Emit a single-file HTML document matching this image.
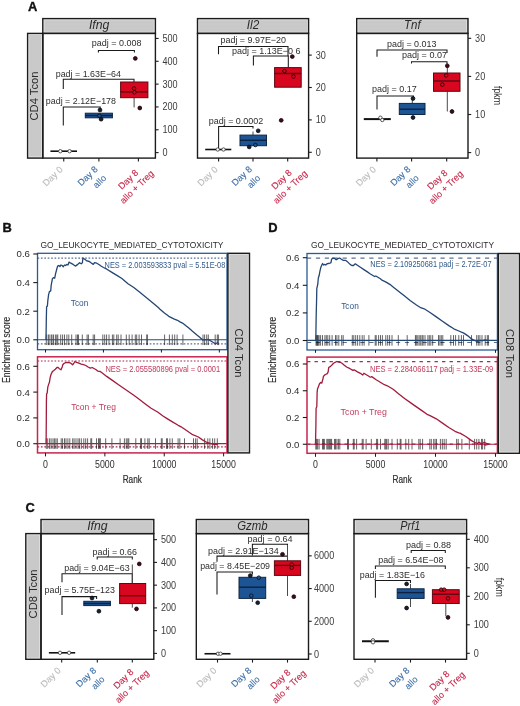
<!DOCTYPE html>
<html><head><meta charset="utf-8"><style>
html,body{margin:0;padding:0;background:#fff;}
svg{display:block;will-change:transform;}
text{font-family:"Liberation Sans", sans-serif;}
</style></head><body>
<svg width="520" height="706" viewBox="0 0 520 706">
<rect x="0" y="0" width="520" height="706" fill="#fff"/>
<text x="28" y="11" font-size="12.9" text-anchor="start" fill="#111" font-weight="bold" stroke="#111" stroke-width="0.35">A</text>
<text x="2.4" y="232.4" font-size="12.9" text-anchor="start" fill="#111" font-weight="bold" stroke="#111" stroke-width="0.35">B</text>
<text x="268.3" y="232.4" font-size="12.9" text-anchor="start" fill="#111" font-weight="bold" stroke="#111" stroke-width="0.35">D</text>
<text x="25.6" y="512.4" font-size="12.9" text-anchor="start" fill="#111" font-weight="bold" stroke="#111" stroke-width="0.35">C</text>
<rect x="27.6" y="33.4" width="15.2" height="124.7" fill="#c9c9c9" stroke="#1c1c1c" stroke-width="1.4"/>
<rect x="28.9" y="34.7" width="12.6" height="122.1" fill="none" stroke="#fff" stroke-width="0.6" stroke-opacity="0.55"/>
<text transform="translate(37.7,96) rotate(-90)" x="0" y="0" font-size="11" text-anchor="middle" fill="#2a2a2a" textLength="49" lengthAdjust="spacingAndGlyphs">CD4 Tcon</text>
<rect x="42.8" y="18.6" width="112.6" height="14.8" fill="#c9c9c9" stroke="#1c1c1c" stroke-width="1.4"/>
<rect x="44.1" y="19.9" width="110" height="12.2" fill="none" stroke="#fff" stroke-width="0.6" stroke-opacity="0.55"/>
<text x="99.1" y="29.1" font-size="12" text-anchor="middle" fill="#2a2a2a" font-style="italic" textLength="20.4" lengthAdjust="spacingAndGlyphs">Ifng</text>
<line x1="155.4" y1="152.6" x2="158.6" y2="152.6" stroke="#1c1c1c" stroke-width="1.1" stroke-linecap="butt"/>
<text x="162.5" y="156.1" font-size="10" text-anchor="start" fill="#3c3c3c" textLength="5.05" lengthAdjust="spacingAndGlyphs">0</text>
<line x1="155.4" y1="129.77" x2="158.6" y2="129.77" stroke="#1c1c1c" stroke-width="1.1" stroke-linecap="butt"/>
<text x="162.5" y="133.27" font-size="10" text-anchor="start" fill="#3c3c3c" textLength="15.15" lengthAdjust="spacingAndGlyphs">100</text>
<line x1="155.4" y1="106.94" x2="158.6" y2="106.94" stroke="#1c1c1c" stroke-width="1.1" stroke-linecap="butt"/>
<text x="162.5" y="110.44" font-size="10" text-anchor="start" fill="#3c3c3c" textLength="15.15" lengthAdjust="spacingAndGlyphs">200</text>
<line x1="155.4" y1="84.11" x2="158.6" y2="84.11" stroke="#1c1c1c" stroke-width="1.1" stroke-linecap="butt"/>
<text x="162.5" y="87.61" font-size="10" text-anchor="start" fill="#3c3c3c" textLength="15.15" lengthAdjust="spacingAndGlyphs">300</text>
<line x1="155.4" y1="61.28" x2="158.6" y2="61.28" stroke="#1c1c1c" stroke-width="1.1" stroke-linecap="butt"/>
<text x="162.5" y="64.78" font-size="10" text-anchor="start" fill="#3c3c3c" textLength="15.15" lengthAdjust="spacingAndGlyphs">400</text>
<line x1="155.4" y1="38.45" x2="158.6" y2="38.45" stroke="#1c1c1c" stroke-width="1.1" stroke-linecap="butt"/>
<text x="162.5" y="41.95" font-size="10" text-anchor="start" fill="#3c3c3c" textLength="15.15" lengthAdjust="spacingAndGlyphs">500</text>
<line x1="63.75" y1="158.1" x2="63.75" y2="161.4" stroke="#1c1c1c" stroke-width="1.1" stroke-linecap="butt"/>
<line x1="98.9" y1="158.1" x2="98.9" y2="161.4" stroke="#1c1c1c" stroke-width="1.1" stroke-linecap="butt"/>
<line x1="138.4" y1="158.1" x2="138.4" y2="161.4" stroke="#1c1c1c" stroke-width="1.1" stroke-linecap="butt"/>
<text x="116.55" y="45.6" font-size="9" text-anchor="middle" fill="#2e2e2e" textLength="49.7" lengthAdjust="spacingAndGlyphs">padj = 0.008</text>
<polyline points="98.4,52.6 98.4,50.4 134.4,50.4 134.4,52.6" fill="none" stroke="#1a1a1a" stroke-width="1.05" stroke-linejoin="miter"/>
<circle cx="135.3" cy="58.4" r="1.9" fill="#3e0c14" stroke="#1c0508" stroke-width="0.8"/>
<text x="88.35" y="76.7" font-size="9" text-anchor="middle" fill="#2e2e2e" textLength="65.3" lengthAdjust="spacingAndGlyphs">padj = 1.63E−64</text>
<polyline points="63.3,88.9 63.3,79.2 134,79.2 134,82" fill="none" stroke="#1a1a1a" stroke-width="1.05" stroke-linejoin="miter"/>
<line x1="134.1" y1="97.7" x2="134.1" y2="107.4" stroke="#4a4a4a" stroke-width="1" stroke-linecap="butt"/>
<rect x="120.6" y="82" width="27.3" height="15.7" fill="#d9061f" stroke="#5e0812" stroke-width="1"/>
<line x1="120.6" y1="91.9" x2="147.9" y2="91.9" stroke="#5a0a14" stroke-width="1.4" stroke-linecap="butt"/>
<circle cx="134" cy="88.5" r="1.8" fill="#d9061f" stroke="#2a0508" stroke-width="0.9"/>
<circle cx="134.5" cy="92.3" r="1.8" fill="#d9061f" stroke="#2a0508" stroke-width="0.9"/>
<circle cx="139.8" cy="108" r="1.9" fill="#3e0c14" stroke="#1c0508" stroke-width="0.8"/>
<text x="80.9" y="103.7" font-size="9" text-anchor="middle" fill="#2e2e2e" textLength="70.2" lengthAdjust="spacingAndGlyphs">padj = 2.12E−178</text>
<polyline points="63.3,125.6 63.3,106.9 100.2,106.9 100.2,109.4" fill="none" stroke="#1a1a1a" stroke-width="1.05" stroke-linejoin="miter"/>
<rect x="85.3" y="113.2" width="27.1" height="4.6" fill="#1d5494" stroke="#0f2644" stroke-width="1"/>
<line x1="85.3" y1="115.5" x2="112.4" y2="115.5" stroke="#0c2240" stroke-width="1.4" stroke-linecap="butt"/>
<circle cx="100" cy="110" r="1.9" fill="#17202c" stroke="#0a0e16" stroke-width="0.8"/>
<circle cx="99.4" cy="115.8" r="1.8" fill="#1d5494" stroke="#0a1424" stroke-width="0.9"/>
<circle cx="101.1" cy="119.2" r="1.9" fill="#17202c" stroke="#0a0e16" stroke-width="0.8"/>
<line x1="50.4" y1="151.2" x2="77" y2="151.2" stroke="#111" stroke-width="1.6" stroke-linecap="butt"/>
<circle cx="60.3" cy="151.2" r="1.7" fill="#fff" stroke="#333" stroke-width="0.8"/>
<circle cx="69.6" cy="151.2" r="1.7" fill="#fff" stroke="#333" stroke-width="0.8"/>
<rect x="42.8" y="33.4" width="112.6" height="124.7" fill="none" stroke="#1c1c1c" stroke-width="1.4"/>
<text transform="translate(52.85,176.3) rotate(-44)" x="0" y="2.94" font-size="9.2" text-anchor="middle" fill="#bcbcbc" stroke="#bcbcbc" stroke-width="0.12">Day 0</text>
<text transform="translate(87.8,176.1) rotate(-44)" x="0" y="2.94" font-size="9.2" text-anchor="middle" fill="#3f6fa8" stroke="#3f6fa8" stroke-width="0.12">Day 8</text>
<text transform="translate(99.4,181.4) rotate(-44)" x="0" y="3.31" font-size="9.2" text-anchor="middle" fill="#3f6fa8" stroke="#3f6fa8" stroke-width="0.12">allo</text>
<text transform="translate(128.3,179.6) rotate(-44)" x="0" y="2.94" font-size="9.2" text-anchor="middle" fill="#c8284a" stroke="#c8284a" stroke-width="0.12">Day 8</text>
<text transform="translate(136.9,187.1) rotate(-44)" x="0" y="2.94" font-size="9.2" text-anchor="middle" fill="#c8284a" stroke="#c8284a" stroke-width="0.12">allo + Treg</text>
<rect x="197.5" y="18.6" width="111.1" height="14.8" fill="#c9c9c9" stroke="#1c1c1c" stroke-width="1.4"/>
<rect x="198.8" y="19.9" width="108.5" height="12.2" fill="none" stroke="#fff" stroke-width="0.6" stroke-opacity="0.55"/>
<text x="253.05" y="29.1" font-size="12" text-anchor="middle" fill="#2a2a2a" font-style="italic" textLength="12.4" lengthAdjust="spacingAndGlyphs">Il2</text>
<line x1="308.6" y1="152.3" x2="311.8" y2="152.3" stroke="#1c1c1c" stroke-width="1.1" stroke-linecap="butt"/>
<text x="315.7" y="155.8" font-size="10" text-anchor="start" fill="#3c3c3c" textLength="5.05" lengthAdjust="spacingAndGlyphs">0</text>
<line x1="308.6" y1="119.9" x2="311.8" y2="119.9" stroke="#1c1c1c" stroke-width="1.1" stroke-linecap="butt"/>
<text x="315.7" y="123.4" font-size="10" text-anchor="start" fill="#3c3c3c" textLength="10.1" lengthAdjust="spacingAndGlyphs">10</text>
<line x1="308.6" y1="87.5" x2="311.8" y2="87.5" stroke="#1c1c1c" stroke-width="1.1" stroke-linecap="butt"/>
<text x="315.7" y="91" font-size="10" text-anchor="start" fill="#3c3c3c" textLength="10.1" lengthAdjust="spacingAndGlyphs">20</text>
<line x1="308.6" y1="55.1" x2="311.8" y2="55.1" stroke="#1c1c1c" stroke-width="1.1" stroke-linecap="butt"/>
<text x="315.7" y="58.6" font-size="10" text-anchor="start" fill="#3c3c3c" textLength="10.1" lengthAdjust="spacingAndGlyphs">30</text>
<line x1="218.6" y1="158.1" x2="218.6" y2="161.4" stroke="#1c1c1c" stroke-width="1.1" stroke-linecap="butt"/>
<line x1="253" y1="158.1" x2="253" y2="161.4" stroke="#1c1c1c" stroke-width="1.1" stroke-linecap="butt"/>
<line x1="287.7" y1="158.1" x2="287.7" y2="161.4" stroke="#1c1c1c" stroke-width="1.1" stroke-linecap="butt"/>
<text x="253.25" y="42.5" font-size="9" text-anchor="middle" fill="#2e2e2e" textLength="65.5" lengthAdjust="spacingAndGlyphs">padj = 9.97E−20</text>
<polyline points="218.5,54.2 218.5,46.4 288,46.4 288,56" fill="none" stroke="#1a1a1a" stroke-width="1.05" stroke-linejoin="miter"/>
<text x="266.3" y="53.7" font-size="9" text-anchor="middle" fill="#2e2e2e" textLength="68.6" lengthAdjust="spacingAndGlyphs">padj = 1.13E−0 6</text>
<polyline points="253.4,65.4 253.4,56 288.3,56 288.3,67.5" fill="none" stroke="#1a1a1a" stroke-width="1.05" stroke-linejoin="miter"/>
<circle cx="292.3" cy="56.6" r="1.9" fill="#3e0c14" stroke="#1c0508" stroke-width="0.8"/>
<rect x="274.6" y="67.6" width="26.6" height="19.6" fill="#d9061f" stroke="#5e0812" stroke-width="1"/>
<line x1="274.6" y1="73.5" x2="301.2" y2="73.5" stroke="#5a0a14" stroke-width="1.4" stroke-linecap="butt"/>
<circle cx="284.5" cy="71" r="1.8" fill="#d9061f" stroke="#2a0508" stroke-width="0.9"/>
<circle cx="293.5" cy="76.5" r="1.8" fill="#d9061f" stroke="#2a0508" stroke-width="0.9"/>
<circle cx="281.2" cy="120.3" r="1.9" fill="#3e0c14" stroke="#1c0508" stroke-width="0.8"/>
<text x="236" y="123.5" font-size="9" text-anchor="middle" fill="#2e2e2e" textLength="54.6" lengthAdjust="spacingAndGlyphs">padj = 0.0002</text>
<polyline points="218.6,148.6 218.6,126.5 253,126.5 253,128.5" fill="none" stroke="#1a1a1a" stroke-width="1.05" stroke-linejoin="miter"/>
<line x1="253" y1="135.1" x2="253" y2="131.5" stroke="#4a4a4a" stroke-width="1" stroke-linecap="butt"/>
<rect x="240" y="135.1" width="26.5" height="10.6" fill="#1d5494" stroke="#0f2644" stroke-width="1"/>
<line x1="240" y1="140.3" x2="266.5" y2="140.3" stroke="#0c2240" stroke-width="1.4" stroke-linecap="butt"/>
<circle cx="258.2" cy="130.8" r="1.9" fill="#17202c" stroke="#0a0e16" stroke-width="0.8"/>
<circle cx="249.2" cy="146.9" r="1.9" fill="#17202c" stroke="#0a0e16" stroke-width="0.8"/>
<circle cx="255.4" cy="145" r="1.8" fill="#1d5494" stroke="#0a1424" stroke-width="0.9"/>
<line x1="205.2" y1="149.5" x2="231.3" y2="149.5" stroke="#111" stroke-width="1.6" stroke-linecap="butt"/>
<circle cx="217.7" cy="149.5" r="1.7" fill="#fff" stroke="#333" stroke-width="0.8"/>
<circle cx="223.5" cy="149.5" r="1.7" fill="#fff" stroke="#333" stroke-width="0.8"/>
<rect x="197.5" y="33.4" width="111.1" height="124.7" fill="none" stroke="#1c1c1c" stroke-width="1.4"/>
<text transform="translate(207.7,176.3) rotate(-44)" x="0" y="2.94" font-size="9.2" text-anchor="middle" fill="#bcbcbc" stroke="#bcbcbc" stroke-width="0.12">Day 0</text>
<text transform="translate(241.9,176.1) rotate(-44)" x="0" y="2.94" font-size="9.2" text-anchor="middle" fill="#3f6fa8" stroke="#3f6fa8" stroke-width="0.12">Day 8</text>
<text transform="translate(253.5,181.4) rotate(-44)" x="0" y="3.31" font-size="9.2" text-anchor="middle" fill="#3f6fa8" stroke="#3f6fa8" stroke-width="0.12">allo</text>
<text transform="translate(281.7,179.6) rotate(-44)" x="0" y="2.94" font-size="9.2" text-anchor="middle" fill="#c8284a" stroke="#c8284a" stroke-width="0.12">Day 8</text>
<text transform="translate(290.3,187.1) rotate(-44)" x="0" y="2.94" font-size="9.2" text-anchor="middle" fill="#c8284a" stroke="#c8284a" stroke-width="0.12">allo + Treg</text>
<rect x="356.7" y="18.6" width="111.3" height="14.8" fill="#c9c9c9" stroke="#1c1c1c" stroke-width="1.4"/>
<rect x="358" y="19.9" width="108.7" height="12.2" fill="none" stroke="#fff" stroke-width="0.6" stroke-opacity="0.55"/>
<text x="412.35" y="29.1" font-size="12" text-anchor="middle" fill="#2a2a2a" font-style="italic" textLength="16.6" lengthAdjust="spacingAndGlyphs">Tnf</text>
<line x1="468" y1="152.6" x2="471.2" y2="152.6" stroke="#1c1c1c" stroke-width="1.1" stroke-linecap="butt"/>
<text x="475.1" y="156.1" font-size="10" text-anchor="start" fill="#3c3c3c" textLength="5.05" lengthAdjust="spacingAndGlyphs">0</text>
<line x1="468" y1="114.5" x2="471.2" y2="114.5" stroke="#1c1c1c" stroke-width="1.1" stroke-linecap="butt"/>
<text x="475.1" y="118" font-size="10" text-anchor="start" fill="#3c3c3c" textLength="10.1" lengthAdjust="spacingAndGlyphs">10</text>
<line x1="468" y1="76.4" x2="471.2" y2="76.4" stroke="#1c1c1c" stroke-width="1.1" stroke-linecap="butt"/>
<text x="475.1" y="79.9" font-size="10" text-anchor="start" fill="#3c3c3c" textLength="10.1" lengthAdjust="spacingAndGlyphs">20</text>
<line x1="468" y1="38.3" x2="471.2" y2="38.3" stroke="#1c1c1c" stroke-width="1.1" stroke-linecap="butt"/>
<text x="475.1" y="41.8" font-size="10" text-anchor="start" fill="#3c3c3c" textLength="10.1" lengthAdjust="spacingAndGlyphs">30</text>
<text transform="translate(494.3,95.5) rotate(90)" x="0" y="0" font-size="11.3" text-anchor="middle" fill="#2e2e2e" textLength="19" lengthAdjust="spacingAndGlyphs">fpkm</text>
<line x1="376.9" y1="158.1" x2="376.9" y2="161.4" stroke="#1c1c1c" stroke-width="1.1" stroke-linecap="butt"/>
<line x1="411.6" y1="158.1" x2="411.6" y2="161.4" stroke="#1c1c1c" stroke-width="1.1" stroke-linecap="butt"/>
<line x1="446.7" y1="158.1" x2="446.7" y2="161.4" stroke="#1c1c1c" stroke-width="1.1" stroke-linecap="butt"/>
<text x="411.75" y="46.9" font-size="9" text-anchor="middle" fill="#2e2e2e" textLength="49.5" lengthAdjust="spacingAndGlyphs">padj = 0.013</text>
<polyline points="377,56.7 377,50 447,50 447,53" fill="none" stroke="#1a1a1a" stroke-width="1.05" stroke-linejoin="miter"/>
<text x="424.5" y="57.9" font-size="9" text-anchor="middle" fill="#2e2e2e" textLength="45" lengthAdjust="spacingAndGlyphs">padj = 0.07</text>
<polyline points="411.5,63.5 411.5,61.8 447,61.8 447,64" fill="none" stroke="#1a1a1a" stroke-width="1.05" stroke-linejoin="miter"/>
<line x1="447.3" y1="73" x2="447.3" y2="65.8" stroke="#4a4a4a" stroke-width="1" stroke-linecap="butt"/>
<line x1="447.3" y1="91.3" x2="447.3" y2="111.5" stroke="#4a4a4a" stroke-width="1" stroke-linecap="butt"/>
<rect x="433.5" y="73" width="26.5" height="18.3" fill="#d9061f" stroke="#5e0812" stroke-width="1"/>
<line x1="433.5" y1="81" x2="460" y2="81" stroke="#5a0a14" stroke-width="1.4" stroke-linecap="butt"/>
<circle cx="447.3" cy="65.8" r="1.9" fill="#3e0c14" stroke="#1c0508" stroke-width="0.8"/>
<circle cx="446.2" cy="75.4" r="1.8" fill="#d9061f" stroke="#2a0508" stroke-width="0.9"/>
<circle cx="442.3" cy="84.6" r="1.8" fill="#d9061f" stroke="#2a0508" stroke-width="0.9"/>
<circle cx="452" cy="111.5" r="1.9" fill="#3e0c14" stroke="#1c0508" stroke-width="0.8"/>
<text x="394.35" y="91.9" font-size="9" text-anchor="middle" fill="#2e2e2e" textLength="44.7" lengthAdjust="spacingAndGlyphs">padj = 0.17</text>
<polyline points="377,109.6 377,96 413.5,96 413.5,98" fill="none" stroke="#1a1a1a" stroke-width="1.05" stroke-linejoin="miter"/>
<line x1="412.3" y1="103.4" x2="412.3" y2="99" stroke="#4a4a4a" stroke-width="1" stroke-linecap="butt"/>
<rect x="399.3" y="103.4" width="25.7" height="11.1" fill="#1d5494" stroke="#0f2644" stroke-width="1"/>
<line x1="399.3" y1="109.2" x2="425" y2="109.2" stroke="#0c2240" stroke-width="1.4" stroke-linecap="butt"/>
<circle cx="413" cy="98.5" r="1.9" fill="#17202c" stroke="#0a0e16" stroke-width="0.8"/>
<circle cx="413" cy="117.5" r="1.9" fill="#17202c" stroke="#0a0e16" stroke-width="0.8"/>
<line x1="363.8" y1="119.1" x2="390.8" y2="119.1" stroke="#111" stroke-width="2" stroke-linecap="butt"/>
<circle cx="380.4" cy="117.7" r="1.7" fill="#fff" stroke="#333" stroke-width="0.8"/>
<circle cx="382.3" cy="120" r="1.7" fill="#fff" stroke="#333" stroke-width="0.8"/>
<rect x="356.7" y="33.4" width="111.3" height="124.7" fill="none" stroke="#1c1c1c" stroke-width="1.4"/>
<text transform="translate(366,176.3) rotate(-44)" x="0" y="2.94" font-size="9.2" text-anchor="middle" fill="#bcbcbc" stroke="#bcbcbc" stroke-width="0.12">Day 0</text>
<text transform="translate(400.5,176.1) rotate(-44)" x="0" y="2.94" font-size="9.2" text-anchor="middle" fill="#3f6fa8" stroke="#3f6fa8" stroke-width="0.12">Day 8</text>
<text transform="translate(412.1,181.4) rotate(-44)" x="0" y="3.31" font-size="9.2" text-anchor="middle" fill="#3f6fa8" stroke="#3f6fa8" stroke-width="0.12">allo</text>
<text transform="translate(437.4,179.9) rotate(-44)" x="0" y="2.94" font-size="9.2" text-anchor="middle" fill="#c8284a" stroke="#c8284a" stroke-width="0.12">Day 8</text>
<text transform="translate(446,187.4) rotate(-44)" x="0" y="2.94" font-size="9.2" text-anchor="middle" fill="#c8284a" stroke="#c8284a" stroke-width="0.12">allo + Treg</text>
<rect x="25.8" y="533.6" width="15.2" height="125.7" fill="#c9c9c9" stroke="#1c1c1c" stroke-width="1.4"/>
<rect x="27.1" y="534.9" width="12.6" height="123.1" fill="none" stroke="#fff" stroke-width="0.6" stroke-opacity="0.55"/>
<text transform="translate(37.2,593.9) rotate(-90)" x="0" y="0" font-size="11" text-anchor="middle" fill="#2a2a2a" textLength="49" lengthAdjust="spacingAndGlyphs">CD8 Tcon</text>
<rect x="41" y="519.5" width="112.8" height="14.1" fill="#c9c9c9" stroke="#1c1c1c" stroke-width="1.4"/>
<rect x="42.3" y="520.8" width="110.2" height="11.5" fill="none" stroke="#fff" stroke-width="0.6" stroke-opacity="0.55"/>
<text x="97.4" y="529.65" font-size="12" text-anchor="middle" fill="#2a2a2a" font-style="italic" textLength="20.4" lengthAdjust="spacingAndGlyphs">Ifng</text>
<line x1="153.8" y1="653.4" x2="157" y2="653.4" stroke="#1c1c1c" stroke-width="1.1" stroke-linecap="butt"/>
<text x="160.9" y="656.9" font-size="10" text-anchor="start" fill="#3c3c3c" textLength="5.05" lengthAdjust="spacingAndGlyphs">0</text>
<line x1="153.8" y1="630.65" x2="157" y2="630.65" stroke="#1c1c1c" stroke-width="1.1" stroke-linecap="butt"/>
<text x="160.9" y="634.15" font-size="10" text-anchor="start" fill="#3c3c3c" textLength="15.15" lengthAdjust="spacingAndGlyphs">100</text>
<line x1="153.8" y1="607.9" x2="157" y2="607.9" stroke="#1c1c1c" stroke-width="1.1" stroke-linecap="butt"/>
<text x="160.9" y="611.4" font-size="10" text-anchor="start" fill="#3c3c3c" textLength="15.15" lengthAdjust="spacingAndGlyphs">200</text>
<line x1="153.8" y1="585.15" x2="157" y2="585.15" stroke="#1c1c1c" stroke-width="1.1" stroke-linecap="butt"/>
<text x="160.9" y="588.65" font-size="10" text-anchor="start" fill="#3c3c3c" textLength="15.15" lengthAdjust="spacingAndGlyphs">300</text>
<line x1="153.8" y1="562.4" x2="157" y2="562.4" stroke="#1c1c1c" stroke-width="1.1" stroke-linecap="butt"/>
<text x="160.9" y="565.9" font-size="10" text-anchor="start" fill="#3c3c3c" textLength="15.15" lengthAdjust="spacingAndGlyphs">400</text>
<line x1="153.8" y1="539.65" x2="157" y2="539.65" stroke="#1c1c1c" stroke-width="1.1" stroke-linecap="butt"/>
<text x="160.9" y="543.15" font-size="10" text-anchor="start" fill="#3c3c3c" textLength="15.15" lengthAdjust="spacingAndGlyphs">500</text>
<line x1="61.7" y1="659.3" x2="61.7" y2="662.6" stroke="#1c1c1c" stroke-width="1.1" stroke-linecap="butt"/>
<line x1="97.3" y1="659.3" x2="97.3" y2="662.6" stroke="#1c1c1c" stroke-width="1.1" stroke-linecap="butt"/>
<line x1="132.3" y1="659.3" x2="132.3" y2="662.6" stroke="#1c1c1c" stroke-width="1.1" stroke-linecap="butt"/>
<text x="114.8" y="554.9" font-size="9" text-anchor="middle" fill="#2e2e2e" textLength="44.4" lengthAdjust="spacingAndGlyphs">padj = 0.66</text>
<polyline points="97.2,559.5 97.2,557 132.3,557 132.3,559.5" fill="none" stroke="#1a1a1a" stroke-width="1.05" stroke-linejoin="miter"/>
<circle cx="139.3" cy="563.9" r="1.9" fill="#3e0c14" stroke="#1c0508" stroke-width="0.8"/>
<text x="96.9" y="570.6" font-size="9" text-anchor="middle" fill="#2e2e2e" textLength="65.4" lengthAdjust="spacingAndGlyphs">padj = 9.04E−63</text>
<polyline points="62,582.3 62,573.8 132.3,573.8 132.3,583.5" fill="none" stroke="#1a1a1a" stroke-width="1.05" stroke-linejoin="miter"/>
<line x1="132.3" y1="583.5" x2="132.3" y2="564.5" stroke="#4a4a4a" stroke-width="1" stroke-linecap="butt"/>
<line x1="132.3" y1="603.6" x2="132.3" y2="607.7" stroke="#4a4a4a" stroke-width="1" stroke-linecap="butt"/>
<rect x="119.6" y="583.5" width="26.1" height="20.1" fill="#d9061f" stroke="#5e0812" stroke-width="1"/>
<line x1="119.6" y1="595.7" x2="145.7" y2="595.7" stroke="#5a0a14" stroke-width="1.4" stroke-linecap="butt"/>
<circle cx="136.5" cy="608.9" r="1.9" fill="#3e0c14" stroke="#1c0508" stroke-width="0.8"/>
<text x="79.8" y="592.6" font-size="9" text-anchor="middle" fill="#2e2e2e" textLength="70.4" lengthAdjust="spacingAndGlyphs">padj = 5.75E−123</text>
<polyline points="62,615 62,596.6 96.6,596.6 96.6,599" fill="none" stroke="#1a1a1a" stroke-width="1.05" stroke-linejoin="miter"/>
<rect x="83.8" y="601.3" width="26.6" height="4.3" fill="#1d5494" stroke="#0f2644" stroke-width="1"/>
<line x1="83.8" y1="603.5" x2="110.4" y2="603.5" stroke="#0c2240" stroke-width="1.4" stroke-linecap="butt"/>
<circle cx="92" cy="598" r="1.9" fill="#17202c" stroke="#0a0e16" stroke-width="0.8"/>
<circle cx="98.9" cy="611.2" r="1.9" fill="#17202c" stroke="#0a0e16" stroke-width="0.8"/>
<line x1="48.9" y1="652.8" x2="75.2" y2="652.8" stroke="#111" stroke-width="1.6" stroke-linecap="butt"/>
<circle cx="60" cy="652.8" r="1.7" fill="#fff" stroke="#333" stroke-width="0.8"/>
<circle cx="69.1" cy="652.8" r="1.7" fill="#fff" stroke="#333" stroke-width="0.8"/>
<rect x="41" y="533.6" width="112.8" height="125.7" fill="none" stroke="#1c1c1c" stroke-width="1.4"/>
<text transform="translate(50.8,677.5) rotate(-44)" x="0" y="2.94" font-size="9.2" text-anchor="middle" fill="#bcbcbc" stroke="#bcbcbc" stroke-width="0.12">Day 0</text>
<text transform="translate(86.2,677.3) rotate(-44)" x="0" y="2.94" font-size="9.2" text-anchor="middle" fill="#3f6fa8" stroke="#3f6fa8" stroke-width="0.12">Day 8</text>
<text transform="translate(97.8,682.6) rotate(-44)" x="0" y="3.31" font-size="9.2" text-anchor="middle" fill="#3f6fa8" stroke="#3f6fa8" stroke-width="0.12">allo</text>
<text transform="translate(123.5,679) rotate(-44)" x="0" y="2.94" font-size="9.2" text-anchor="middle" fill="#c8284a" stroke="#c8284a" stroke-width="0.12">Day 8</text>
<text transform="translate(132.1,686.5) rotate(-44)" x="0" y="2.94" font-size="9.2" text-anchor="middle" fill="#c8284a" stroke="#c8284a" stroke-width="0.12">allo + Treg</text>
<rect x="196.3" y="519.5" width="112.2" height="14.1" fill="#c9c9c9" stroke="#1c1c1c" stroke-width="1.4"/>
<rect x="197.6" y="520.8" width="109.6" height="11.5" fill="none" stroke="#fff" stroke-width="0.6" stroke-opacity="0.55"/>
<text x="252.4" y="529.65" font-size="12" text-anchor="middle" fill="#2a2a2a" font-style="italic" textLength="30.4" lengthAdjust="spacingAndGlyphs">Gzmb</text>
<line x1="308.5" y1="654" x2="311.7" y2="654" stroke="#1c1c1c" stroke-width="1.1" stroke-linecap="butt"/>
<text x="314" y="657.5" font-size="10" text-anchor="start" fill="#3c3c3c" textLength="5.05" lengthAdjust="spacingAndGlyphs">0</text>
<line x1="308.5" y1="621.28" x2="311.7" y2="621.28" stroke="#1c1c1c" stroke-width="1.1" stroke-linecap="butt"/>
<text x="314" y="624.78" font-size="10" text-anchor="start" fill="#3c3c3c" textLength="20.2" lengthAdjust="spacingAndGlyphs">2000</text>
<line x1="308.5" y1="588.56" x2="311.7" y2="588.56" stroke="#1c1c1c" stroke-width="1.1" stroke-linecap="butt"/>
<text x="314" y="592.06" font-size="10" text-anchor="start" fill="#3c3c3c" textLength="20.2" lengthAdjust="spacingAndGlyphs">4000</text>
<line x1="308.5" y1="555.84" x2="311.7" y2="555.84" stroke="#1c1c1c" stroke-width="1.1" stroke-linecap="butt"/>
<text x="314" y="559.34" font-size="10" text-anchor="start" fill="#3c3c3c" textLength="20.2" lengthAdjust="spacingAndGlyphs">6000</text>
<line x1="217.5" y1="659.3" x2="217.5" y2="662.6" stroke="#1c1c1c" stroke-width="1.1" stroke-linecap="butt"/>
<line x1="252.5" y1="659.3" x2="252.5" y2="662.6" stroke="#1c1c1c" stroke-width="1.1" stroke-linecap="butt"/>
<line x1="287.5" y1="659.3" x2="287.5" y2="662.6" stroke="#1c1c1c" stroke-width="1.1" stroke-linecap="butt"/>
<text x="270.05" y="542.3" font-size="9" text-anchor="middle" fill="#2e2e2e" textLength="45.1" lengthAdjust="spacingAndGlyphs">padj = 0.64</text>
<polyline points="252.4,555.5 252.4,544.3 287.5,544.3 287.5,546.5" fill="none" stroke="#1a1a1a" stroke-width="1.05" stroke-linejoin="miter"/>
<text x="243.4" y="553.5" font-size="9" text-anchor="middle" fill="#2e2e2e" textLength="70.8" lengthAdjust="spacingAndGlyphs">padj = 2.91E−134</text>
<polyline points="217,561.8 217,556.1 287.5,556.1 287.5,560.8" fill="none" stroke="#1a1a1a" stroke-width="1.05" stroke-linejoin="miter"/>
<circle cx="282.5" cy="554.3" r="1.9" fill="#3e0c14" stroke="#1c0508" stroke-width="0.8"/>
<line x1="287.5" y1="560.8" x2="287.5" y2="545" stroke="#4a4a4a" stroke-width="1" stroke-linecap="butt"/>
<line x1="287.5" y1="575.4" x2="287.5" y2="596" stroke="#4a4a4a" stroke-width="1" stroke-linecap="butt"/>
<rect x="274.4" y="560.8" width="26.2" height="14.6" fill="#d9061f" stroke="#5e0812" stroke-width="1"/>
<line x1="274.4" y1="565.4" x2="300.6" y2="565.4" stroke="#5a0a14" stroke-width="1.4" stroke-linecap="butt"/>
<circle cx="291.7" cy="564.6" r="1.8" fill="#d9061f" stroke="#2a0508" stroke-width="0.9"/>
<circle cx="291.7" cy="567.8" r="1.8" fill="#d9061f" stroke="#2a0508" stroke-width="0.9"/>
<circle cx="293.8" cy="596.7" r="1.9" fill="#3e0c14" stroke="#1c0508" stroke-width="0.8"/>
<text x="235.1" y="569.3" font-size="9" text-anchor="middle" fill="#2e2e2e" textLength="69.8" lengthAdjust="spacingAndGlyphs">padj = 8.45E−209</text>
<polyline points="217,594.6 217,572 252.4,572 252.4,574.5" fill="none" stroke="#1a1a1a" stroke-width="1.05" stroke-linejoin="miter"/>
<line x1="252.4" y1="598.4" x2="252.4" y2="602" stroke="#4a4a4a" stroke-width="1" stroke-linecap="butt"/>
<rect x="239" y="577.3" width="26.7" height="21.1" fill="#1d5494" stroke="#0f2644" stroke-width="1"/>
<line x1="239" y1="587.2" x2="265.7" y2="587.2" stroke="#0c2240" stroke-width="1.4" stroke-linecap="butt"/>
<circle cx="250.3" cy="575.6" r="1.9" fill="#17202c" stroke="#0a0e16" stroke-width="0.8"/>
<circle cx="258.8" cy="577.7" r="1.8" fill="#1d5494" stroke="#0a1424" stroke-width="0.9"/>
<circle cx="251.3" cy="595.7" r="1.8" fill="#1d5494" stroke="#0a1424" stroke-width="0.9"/>
<circle cx="257.7" cy="602.7" r="1.9" fill="#17202c" stroke="#0a0e16" stroke-width="0.8"/>
<line x1="204.5" y1="653.75" x2="230.5" y2="653.75" stroke="#111" stroke-width="1.6" stroke-linecap="butt"/>
<circle cx="218" cy="653.75" r="1.7" fill="#fff" stroke="#333" stroke-width="0.8"/>
<circle cx="220.5" cy="653.75" r="1.7" fill="#fff" stroke="#333" stroke-width="0.8"/>
<rect x="196.3" y="533.6" width="112.2" height="125.7" fill="none" stroke="#1c1c1c" stroke-width="1.4"/>
<text transform="translate(206.6,677.5) rotate(-44)" x="0" y="2.94" font-size="9.2" text-anchor="middle" fill="#bcbcbc" stroke="#bcbcbc" stroke-width="0.12">Day 0</text>
<text transform="translate(241.4,677.3) rotate(-44)" x="0" y="2.94" font-size="9.2" text-anchor="middle" fill="#3f6fa8" stroke="#3f6fa8" stroke-width="0.12">Day 8</text>
<text transform="translate(253,682.6) rotate(-44)" x="0" y="3.31" font-size="9.2" text-anchor="middle" fill="#3f6fa8" stroke="#3f6fa8" stroke-width="0.12">allo</text>
<text transform="translate(280.5,679.3) rotate(-44)" x="0" y="2.94" font-size="9.2" text-anchor="middle" fill="#c8284a" stroke="#c8284a" stroke-width="0.12">Day 8</text>
<text transform="translate(289.1,686.8) rotate(-44)" x="0" y="2.94" font-size="9.2" text-anchor="middle" fill="#c8284a" stroke="#c8284a" stroke-width="0.12">allo + Treg</text>
<rect x="354" y="519.5" width="112.6" height="14.1" fill="#c9c9c9" stroke="#1c1c1c" stroke-width="1.4"/>
<rect x="355.3" y="520.8" width="110" height="11.5" fill="none" stroke="#fff" stroke-width="0.6" stroke-opacity="0.55"/>
<text x="410.3" y="529.65" font-size="12" text-anchor="middle" fill="#2a2a2a" font-style="italic" textLength="19.9" lengthAdjust="spacingAndGlyphs">Prf1</text>
<line x1="466.6" y1="653.3" x2="469.8" y2="653.3" stroke="#1c1c1c" stroke-width="1.1" stroke-linecap="butt"/>
<text x="473.7" y="656.8" font-size="10" text-anchor="start" fill="#3c3c3c" textLength="5.05" lengthAdjust="spacingAndGlyphs">0</text>
<line x1="466.6" y1="624.8" x2="469.8" y2="624.8" stroke="#1c1c1c" stroke-width="1.1" stroke-linecap="butt"/>
<text x="473.7" y="628.3" font-size="10" text-anchor="start" fill="#3c3c3c" textLength="15.15" lengthAdjust="spacingAndGlyphs">100</text>
<line x1="466.6" y1="596.3" x2="469.8" y2="596.3" stroke="#1c1c1c" stroke-width="1.1" stroke-linecap="butt"/>
<text x="473.7" y="599.8" font-size="10" text-anchor="start" fill="#3c3c3c" textLength="15.15" lengthAdjust="spacingAndGlyphs">200</text>
<line x1="466.6" y1="567.8" x2="469.8" y2="567.8" stroke="#1c1c1c" stroke-width="1.1" stroke-linecap="butt"/>
<text x="473.7" y="571.3" font-size="10" text-anchor="start" fill="#3c3c3c" textLength="15.15" lengthAdjust="spacingAndGlyphs">300</text>
<line x1="466.6" y1="539.3" x2="469.8" y2="539.3" stroke="#1c1c1c" stroke-width="1.1" stroke-linecap="butt"/>
<text x="473.7" y="542.8" font-size="10" text-anchor="start" fill="#3c3c3c" textLength="15.15" lengthAdjust="spacingAndGlyphs">400</text>
<text transform="translate(496.2,587.3) rotate(90)" x="0" y="0" font-size="11.3" text-anchor="middle" fill="#2e2e2e" textLength="19" lengthAdjust="spacingAndGlyphs">fpkm</text>
<line x1="375" y1="659.3" x2="375" y2="662.6" stroke="#1c1c1c" stroke-width="1.1" stroke-linecap="butt"/>
<line x1="410.5" y1="659.3" x2="410.5" y2="662.6" stroke="#1c1c1c" stroke-width="1.1" stroke-linecap="butt"/>
<line x1="445.5" y1="659.3" x2="445.5" y2="662.6" stroke="#1c1c1c" stroke-width="1.1" stroke-linecap="butt"/>
<text x="428.5" y="547.5" font-size="9" text-anchor="middle" fill="#2e2e2e" textLength="45" lengthAdjust="spacingAndGlyphs">padj = 0.88</text>
<polyline points="411.2,553 411.2,550.4 445.3,550.4 445.3,553" fill="none" stroke="#1a1a1a" stroke-width="1.05" stroke-linejoin="miter"/>
<text x="410.85" y="562.9" font-size="9" text-anchor="middle" fill="#2e2e2e" textLength="65.3" lengthAdjust="spacingAndGlyphs">padj = 6.54E−08</text>
<polyline points="375.4,569 375.4,566 445.3,566 445.3,569" fill="none" stroke="#1a1a1a" stroke-width="1.05" stroke-linejoin="miter"/>
<text x="392.35" y="577.9" font-size="9" text-anchor="middle" fill="#2e2e2e" textLength="65.3" lengthAdjust="spacingAndGlyphs">padj = 1.83E−16</text>
<polyline points="375.4,597.7 375.4,580.4 410.5,580.4 410.5,583" fill="none" stroke="#1a1a1a" stroke-width="1.05" stroke-linejoin="miter"/>
<line x1="410.5" y1="588.8" x2="410.5" y2="583.9" stroke="#4a4a4a" stroke-width="1" stroke-linecap="butt"/>
<line x1="410.5" y1="598.4" x2="410.5" y2="607" stroke="#4a4a4a" stroke-width="1" stroke-linecap="butt"/>
<rect x="397.2" y="588.8" width="26.9" height="9.6" fill="#1d5494" stroke="#0f2644" stroke-width="1"/>
<line x1="397.2" y1="592.6" x2="424.1" y2="592.6" stroke="#0c2240" stroke-width="1.4" stroke-linecap="butt"/>
<circle cx="406.6" cy="583.9" r="1.9" fill="#17202c" stroke="#0a0e16" stroke-width="0.8"/>
<circle cx="406.6" cy="608" r="1.9" fill="#17202c" stroke="#0a0e16" stroke-width="0.8"/>
<line x1="445.8" y1="603.5" x2="445.8" y2="616.2" stroke="#4a4a4a" stroke-width="1" stroke-linecap="butt"/>
<rect x="432.4" y="589.7" width="26.8" height="13.8" fill="#d9061f" stroke="#5e0812" stroke-width="1"/>
<line x1="432.4" y1="594.2" x2="459.2" y2="594.2" stroke="#5a0a14" stroke-width="1.4" stroke-linecap="butt"/>
<circle cx="441.2" cy="589.7" r="1.8" fill="#d9061f" stroke="#2a0508" stroke-width="0.9"/>
<circle cx="444.2" cy="589.7" r="1.8" fill="#d9061f" stroke="#2a0508" stroke-width="0.9"/>
<circle cx="448" cy="598.4" r="1.8" fill="#d9061f" stroke="#2a0508" stroke-width="0.9"/>
<circle cx="448" cy="617.4" r="1.9" fill="#3e0c14" stroke="#1c0508" stroke-width="0.8"/>
<line x1="362" y1="641.25" x2="388.8" y2="641.25" stroke="#111" stroke-width="2" stroke-linecap="butt"/>
<circle cx="373" cy="640.3" r="1.7" fill="#fff" stroke="#333" stroke-width="0.8"/>
<circle cx="373" cy="642.3" r="1.7" fill="#fff" stroke="#333" stroke-width="0.8"/>
<rect x="354" y="533.6" width="112.6" height="125.7" fill="none" stroke="#1c1c1c" stroke-width="1.4"/>
<text transform="translate(364.1,677.5) rotate(-44)" x="0" y="2.94" font-size="9.2" text-anchor="middle" fill="#bcbcbc" stroke="#bcbcbc" stroke-width="0.12">Day 0</text>
<text transform="translate(399.4,677.3) rotate(-44)" x="0" y="2.94" font-size="9.2" text-anchor="middle" fill="#3f6fa8" stroke="#3f6fa8" stroke-width="0.12">Day 8</text>
<text transform="translate(411,682.6) rotate(-44)" x="0" y="3.31" font-size="9.2" text-anchor="middle" fill="#3f6fa8" stroke="#3f6fa8" stroke-width="0.12">allo</text>
<text transform="translate(439.5,680.8) rotate(-44)" x="0" y="2.94" font-size="9.2" text-anchor="middle" fill="#c8284a" stroke="#c8284a" stroke-width="0.12">Day 8</text>
<text transform="translate(448.1,688.3) rotate(-44)" x="0" y="2.94" font-size="9.2" text-anchor="middle" fill="#c8284a" stroke="#c8284a" stroke-width="0.12">allo + Treg</text>
<text x="40.4" y="248.2" font-size="8.6" text-anchor="start" fill="#2a2a2a" textLength="183.1" lengthAdjust="spacingAndGlyphs">GO_LEUKOCYTE_MEDIATED_CYTOTOXICITY</text>
<line x1="37.5" y1="258.2" x2="227" y2="258.2" stroke="#5a7092" stroke-width="1.2" stroke-dasharray="1.7,1.7" stroke-linecap="butt"/>
<line x1="37.5" y1="343.9" x2="227" y2="343.9" stroke="#5a7092" stroke-width="1.2" stroke-dasharray="1.7,1.7" stroke-linecap="butt"/>
<line x1="46.3" y1="334.5" x2="46.3" y2="345.1" stroke="#000" stroke-width="0.9" stroke-opacity="0.68" stroke-linecap="butt"/>
<line x1="48.2" y1="334.5" x2="48.2" y2="345.1" stroke="#000" stroke-width="0.9" stroke-opacity="0.68" stroke-linecap="butt"/>
<line x1="49.1" y1="334.5" x2="49.1" y2="345.1" stroke="#000" stroke-width="0.9" stroke-opacity="0.68" stroke-linecap="butt"/>
<line x1="51.1" y1="334.5" x2="51.1" y2="345.1" stroke="#000" stroke-width="0.9" stroke-opacity="0.68" stroke-linecap="butt"/>
<line x1="52" y1="334.5" x2="52" y2="345.1" stroke="#000" stroke-width="0.9" stroke-opacity="0.68" stroke-linecap="butt"/>
<line x1="53.5" y1="334.5" x2="53.5" y2="345.1" stroke="#000" stroke-width="0.9" stroke-opacity="0.68" stroke-linecap="butt"/>
<line x1="55.4" y1="334.5" x2="55.4" y2="345.1" stroke="#000" stroke-width="0.9" stroke-opacity="0.68" stroke-linecap="butt"/>
<line x1="56.8" y1="334.5" x2="56.8" y2="345.1" stroke="#000" stroke-width="0.9" stroke-opacity="0.68" stroke-linecap="butt"/>
<line x1="57.8" y1="334.5" x2="57.8" y2="345.1" stroke="#000" stroke-width="0.9" stroke-opacity="0.68" stroke-linecap="butt"/>
<line x1="60.7" y1="334.5" x2="60.7" y2="345.1" stroke="#000" stroke-width="0.9" stroke-opacity="0.68" stroke-linecap="butt"/>
<line x1="62.6" y1="334.5" x2="62.6" y2="345.1" stroke="#000" stroke-width="0.9" stroke-opacity="0.68" stroke-linecap="butt"/>
<line x1="64.5" y1="334.5" x2="64.5" y2="345.1" stroke="#000" stroke-width="0.9" stroke-opacity="0.68" stroke-linecap="butt"/>
<line x1="66.9" y1="334.5" x2="66.9" y2="345.1" stroke="#000" stroke-width="0.9" stroke-opacity="0.68" stroke-linecap="butt"/>
<line x1="68.8" y1="334.5" x2="68.8" y2="345.1" stroke="#000" stroke-width="0.9" stroke-opacity="0.68" stroke-linecap="butt"/>
<line x1="71.7" y1="334.5" x2="71.7" y2="345.1" stroke="#000" stroke-width="0.9" stroke-opacity="0.68" stroke-linecap="butt"/>
<line x1="76" y1="334.5" x2="76" y2="345.1" stroke="#000" stroke-width="0.9" stroke-opacity="0.68" stroke-linecap="butt"/>
<line x1="77.5" y1="334.5" x2="77.5" y2="345.1" stroke="#000" stroke-width="0.9" stroke-opacity="0.68" stroke-linecap="butt"/>
<line x1="78.5" y1="334.5" x2="78.5" y2="345.1" stroke="#000" stroke-width="0.9" stroke-opacity="0.68" stroke-linecap="butt"/>
<line x1="82.3" y1="334.5" x2="82.3" y2="345.1" stroke="#000" stroke-width="0.9" stroke-opacity="0.68" stroke-linecap="butt"/>
<line x1="87.1" y1="334.5" x2="87.1" y2="345.1" stroke="#000" stroke-width="0.9" stroke-opacity="0.68" stroke-linecap="butt"/>
<line x1="88.4" y1="334.5" x2="88.4" y2="345.1" stroke="#000" stroke-width="0.9" stroke-opacity="0.68" stroke-linecap="butt"/>
<line x1="93.2" y1="334.5" x2="93.2" y2="345.1" stroke="#000" stroke-width="0.9" stroke-opacity="0.68" stroke-linecap="butt"/>
<line x1="94.6" y1="334.5" x2="94.6" y2="345.1" stroke="#000" stroke-width="0.9" stroke-opacity="0.68" stroke-linecap="butt"/>
<line x1="102.8" y1="334.5" x2="102.8" y2="345.1" stroke="#000" stroke-width="0.9" stroke-opacity="0.68" stroke-linecap="butt"/>
<line x1="104.7" y1="334.5" x2="104.7" y2="345.1" stroke="#000" stroke-width="0.9" stroke-opacity="0.68" stroke-linecap="butt"/>
<line x1="106.6" y1="334.5" x2="106.6" y2="345.1" stroke="#000" stroke-width="0.9" stroke-opacity="0.68" stroke-linecap="butt"/>
<line x1="109" y1="334.5" x2="109" y2="345.1" stroke="#000" stroke-width="0.9" stroke-opacity="0.68" stroke-linecap="butt"/>
<line x1="112.4" y1="334.5" x2="112.4" y2="345.1" stroke="#000" stroke-width="0.9" stroke-opacity="0.68" stroke-linecap="butt"/>
<line x1="113.8" y1="334.5" x2="113.8" y2="345.1" stroke="#000" stroke-width="0.9" stroke-opacity="0.68" stroke-linecap="butt"/>
<line x1="116.7" y1="334.5" x2="116.7" y2="345.1" stroke="#000" stroke-width="0.9" stroke-opacity="0.68" stroke-linecap="butt"/>
<line x1="118.2" y1="334.5" x2="118.2" y2="345.1" stroke="#000" stroke-width="0.9" stroke-opacity="0.68" stroke-linecap="butt"/>
<line x1="121" y1="334.5" x2="121" y2="345.1" stroke="#000" stroke-width="0.9" stroke-opacity="0.68" stroke-linecap="butt"/>
<line x1="126.3" y1="334.5" x2="126.3" y2="345.1" stroke="#000" stroke-width="0.9" stroke-opacity="0.68" stroke-linecap="butt"/>
<line x1="129.2" y1="334.5" x2="129.2" y2="345.1" stroke="#000" stroke-width="0.9" stroke-opacity="0.68" stroke-linecap="butt"/>
<line x1="132.1" y1="334.5" x2="132.1" y2="345.1" stroke="#000" stroke-width="0.9" stroke-opacity="0.68" stroke-linecap="butt"/>
<line x1="135.3" y1="334.5" x2="135.3" y2="345.1" stroke="#000" stroke-width="0.9" stroke-opacity="0.68" stroke-linecap="butt"/>
<line x1="136.7" y1="334.5" x2="136.7" y2="345.1" stroke="#000" stroke-width="0.9" stroke-opacity="0.68" stroke-linecap="butt"/>
<line x1="139.1" y1="334.5" x2="139.1" y2="345.1" stroke="#000" stroke-width="0.9" stroke-opacity="0.68" stroke-linecap="butt"/>
<line x1="141.5" y1="334.5" x2="141.5" y2="345.1" stroke="#000" stroke-width="0.9" stroke-opacity="0.68" stroke-linecap="butt"/>
<line x1="146.8" y1="334.5" x2="146.8" y2="345.1" stroke="#000" stroke-width="0.9" stroke-opacity="0.68" stroke-linecap="butt"/>
<line x1="147.3" y1="334.5" x2="147.3" y2="345.1" stroke="#000" stroke-width="0.9" stroke-opacity="0.68" stroke-linecap="butt"/>
<line x1="164.6" y1="334.5" x2="164.6" y2="345.1" stroke="#000" stroke-width="0.9" stroke-opacity="0.68" stroke-linecap="butt"/>
<line x1="169.4" y1="334.5" x2="169.4" y2="345.1" stroke="#000" stroke-width="0.9" stroke-opacity="0.68" stroke-linecap="butt"/>
<line x1="172.3" y1="334.5" x2="172.3" y2="345.1" stroke="#000" stroke-width="0.9" stroke-opacity="0.68" stroke-linecap="butt"/>
<line x1="174.7" y1="334.5" x2="174.7" y2="345.1" stroke="#000" stroke-width="0.9" stroke-opacity="0.68" stroke-linecap="butt"/>
<line x1="177.1" y1="334.5" x2="177.1" y2="345.1" stroke="#000" stroke-width="0.9" stroke-opacity="0.68" stroke-linecap="butt"/>
<line x1="182.9" y1="334.5" x2="182.9" y2="345.1" stroke="#000" stroke-width="0.9" stroke-opacity="0.68" stroke-linecap="butt"/>
<line x1="203" y1="334.5" x2="203" y2="345.1" stroke="#000" stroke-width="0.9" stroke-opacity="0.68" stroke-linecap="butt"/>
<line x1="204.6" y1="334.5" x2="204.6" y2="345.1" stroke="#000" stroke-width="0.9" stroke-opacity="0.68" stroke-linecap="butt"/>
<line x1="206.7" y1="334.5" x2="206.7" y2="345.1" stroke="#000" stroke-width="0.9" stroke-opacity="0.68" stroke-linecap="butt"/>
<line x1="208.3" y1="334.5" x2="208.3" y2="345.1" stroke="#000" stroke-width="0.9" stroke-opacity="0.68" stroke-linecap="butt"/>
<line x1="215.2" y1="334.5" x2="215.2" y2="345.1" stroke="#000" stroke-width="0.9" stroke-opacity="0.68" stroke-linecap="butt"/>
<line x1="217.3" y1="334.5" x2="217.3" y2="345.1" stroke="#000" stroke-width="0.9" stroke-opacity="0.68" stroke-linecap="butt"/>
<line x1="218.4" y1="334.5" x2="218.4" y2="345.1" stroke="#000" stroke-width="0.9" stroke-opacity="0.68" stroke-linecap="butt"/>
<line x1="37.5" y1="339.8" x2="227" y2="339.8" stroke="#27496f" stroke-width="1.1" stroke-linecap="butt"/>
<polyline points="46,339.9 46.3,320 46.6,306.8 47.4,306 47.8,300.9 48.6,294.7 49.4,291.6 50.7,290.9 51.2,285.1 52.4,278.8 53.5,277.6 54.7,278.2 55.6,273.6 56.8,269 57.6,266.1 58.7,265.5 59.9,266.5 61,265 62.2,265.5 63.3,266.7 64.5,265 65.6,265.5 66.8,264.4 68,265 69.1,262.1 70.8,263.2 73.1,264.4 75.4,266.1 77.8,264.4 79.5,262.7 81.2,263.8 82.4,262.7 82.9,258 84.7,259.2 87,260.9 89.3,261.5 91.6,263.2 93.3,264.4 94.5,262.7 96.8,263.2 99.7,265 100.5,265.8 103.5,267.5 106.9,269.2 111.5,272.1 117.3,275.6 121.9,278.5 128,283.7 133.8,287.5 139.5,292.1 145.3,296.7 151.1,301.4 158,307.3 160,309.2 163.8,312.5 168.8,316.3 173.8,318.8 177.5,320.3 180,321.9 182.5,323.1 185,325 188.8,328.1 192.5,331.3 196.3,334.4 200,337.5 202.5,339.8 205,339.8 208.1,339.4 211.3,341.3 215,343.5 216.9,343.1 218.1,341.9" fill="none" stroke="#244674" stroke-width="1.3" stroke-linejoin="round"/>
<rect x="37.5" y="253.3" width="189.5" height="96.4" fill="none" stroke="#2b5b95" stroke-width="1.3"/>
<line x1="37.5" y1="361" x2="227" y2="361" stroke="#a33050" stroke-width="1.2" stroke-dasharray="1.7,1.7" stroke-linecap="butt"/>
<line x1="37.5" y1="446.8" x2="227" y2="446.8" stroke="#a33050" stroke-width="1.2" stroke-dasharray="1.7,1.7" stroke-linecap="butt"/>
<line x1="46.3" y1="438.3" x2="46.3" y2="448.9" stroke="#000" stroke-width="0.9" stroke-opacity="0.68" stroke-linecap="butt"/>
<line x1="47.7" y1="438.3" x2="47.7" y2="448.9" stroke="#000" stroke-width="0.9" stroke-opacity="0.68" stroke-linecap="butt"/>
<line x1="49.6" y1="438.3" x2="49.6" y2="448.9" stroke="#000" stroke-width="0.9" stroke-opacity="0.68" stroke-linecap="butt"/>
<line x1="51.1" y1="438.3" x2="51.1" y2="448.9" stroke="#000" stroke-width="0.9" stroke-opacity="0.68" stroke-linecap="butt"/>
<line x1="53" y1="438.3" x2="53" y2="448.9" stroke="#000" stroke-width="0.9" stroke-opacity="0.68" stroke-linecap="butt"/>
<line x1="54.4" y1="438.3" x2="54.4" y2="448.9" stroke="#000" stroke-width="0.9" stroke-opacity="0.68" stroke-linecap="butt"/>
<line x1="55.9" y1="438.3" x2="55.9" y2="448.9" stroke="#000" stroke-width="0.9" stroke-opacity="0.68" stroke-linecap="butt"/>
<line x1="57.3" y1="438.3" x2="57.3" y2="448.9" stroke="#000" stroke-width="0.9" stroke-opacity="0.68" stroke-linecap="butt"/>
<line x1="61.2" y1="438.3" x2="61.2" y2="448.9" stroke="#000" stroke-width="0.9" stroke-opacity="0.68" stroke-linecap="butt"/>
<line x1="62.6" y1="438.3" x2="62.6" y2="448.9" stroke="#000" stroke-width="0.9" stroke-opacity="0.68" stroke-linecap="butt"/>
<line x1="64.5" y1="438.3" x2="64.5" y2="448.9" stroke="#000" stroke-width="0.9" stroke-opacity="0.68" stroke-linecap="butt"/>
<line x1="66" y1="438.3" x2="66" y2="448.9" stroke="#000" stroke-width="0.9" stroke-opacity="0.68" stroke-linecap="butt"/>
<line x1="67.9" y1="438.3" x2="67.9" y2="448.9" stroke="#000" stroke-width="0.9" stroke-opacity="0.68" stroke-linecap="butt"/>
<line x1="69.8" y1="438.3" x2="69.8" y2="448.9" stroke="#000" stroke-width="0.9" stroke-opacity="0.68" stroke-linecap="butt"/>
<line x1="72.7" y1="438.3" x2="72.7" y2="448.9" stroke="#000" stroke-width="0.9" stroke-opacity="0.68" stroke-linecap="butt"/>
<line x1="74.1" y1="438.3" x2="74.1" y2="448.9" stroke="#000" stroke-width="0.9" stroke-opacity="0.68" stroke-linecap="butt"/>
<line x1="76" y1="438.3" x2="76" y2="448.9" stroke="#000" stroke-width="0.9" stroke-opacity="0.68" stroke-linecap="butt"/>
<line x1="78" y1="438.3" x2="78" y2="448.9" stroke="#000" stroke-width="0.9" stroke-opacity="0.68" stroke-linecap="butt"/>
<line x1="79.4" y1="438.3" x2="79.4" y2="448.9" stroke="#000" stroke-width="0.9" stroke-opacity="0.68" stroke-linecap="butt"/>
<line x1="81.3" y1="438.3" x2="81.3" y2="448.9" stroke="#000" stroke-width="0.9" stroke-opacity="0.68" stroke-linecap="butt"/>
<line x1="83.8" y1="438.3" x2="83.8" y2="448.9" stroke="#000" stroke-width="0.9" stroke-opacity="0.68" stroke-linecap="butt"/>
<line x1="85.7" y1="438.3" x2="85.7" y2="448.9" stroke="#000" stroke-width="0.9" stroke-opacity="0.68" stroke-linecap="butt"/>
<line x1="87.6" y1="438.3" x2="87.6" y2="448.9" stroke="#000" stroke-width="0.9" stroke-opacity="0.68" stroke-linecap="butt"/>
<line x1="90.8" y1="438.3" x2="90.8" y2="448.9" stroke="#000" stroke-width="0.9" stroke-opacity="0.68" stroke-linecap="butt"/>
<line x1="91.7" y1="438.3" x2="91.7" y2="448.9" stroke="#000" stroke-width="0.9" stroke-opacity="0.68" stroke-linecap="butt"/>
<line x1="96.5" y1="438.3" x2="96.5" y2="448.9" stroke="#000" stroke-width="0.9" stroke-opacity="0.68" stroke-linecap="butt"/>
<line x1="98.5" y1="438.3" x2="98.5" y2="448.9" stroke="#000" stroke-width="0.9" stroke-opacity="0.68" stroke-linecap="butt"/>
<line x1="99.4" y1="438.3" x2="99.4" y2="448.9" stroke="#000" stroke-width="0.9" stroke-opacity="0.68" stroke-linecap="butt"/>
<line x1="100.4" y1="438.3" x2="100.4" y2="448.9" stroke="#000" stroke-width="0.9" stroke-opacity="0.68" stroke-linecap="butt"/>
<line x1="105.7" y1="438.3" x2="105.7" y2="448.9" stroke="#000" stroke-width="0.9" stroke-opacity="0.68" stroke-linecap="butt"/>
<line x1="111.9" y1="438.3" x2="111.9" y2="448.9" stroke="#000" stroke-width="0.9" stroke-opacity="0.68" stroke-linecap="butt"/>
<line x1="120.1" y1="438.3" x2="120.1" y2="448.9" stroke="#000" stroke-width="0.9" stroke-opacity="0.68" stroke-linecap="butt"/>
<line x1="124.4" y1="438.3" x2="124.4" y2="448.9" stroke="#000" stroke-width="0.9" stroke-opacity="0.68" stroke-linecap="butt"/>
<line x1="126.3" y1="438.3" x2="126.3" y2="448.9" stroke="#000" stroke-width="0.9" stroke-opacity="0.68" stroke-linecap="butt"/>
<line x1="127.8" y1="438.3" x2="127.8" y2="448.9" stroke="#000" stroke-width="0.9" stroke-opacity="0.68" stroke-linecap="butt"/>
<line x1="128.8" y1="438.3" x2="128.8" y2="448.9" stroke="#000" stroke-width="0.9" stroke-opacity="0.68" stroke-linecap="butt"/>
<line x1="135.8" y1="438.3" x2="135.8" y2="448.9" stroke="#000" stroke-width="0.9" stroke-opacity="0.68" stroke-linecap="butt"/>
<line x1="140.6" y1="438.3" x2="140.6" y2="448.9" stroke="#000" stroke-width="0.9" stroke-opacity="0.68" stroke-linecap="butt"/>
<line x1="141.5" y1="438.3" x2="141.5" y2="448.9" stroke="#000" stroke-width="0.9" stroke-opacity="0.68" stroke-linecap="butt"/>
<line x1="144.9" y1="438.3" x2="144.9" y2="448.9" stroke="#000" stroke-width="0.9" stroke-opacity="0.68" stroke-linecap="butt"/>
<line x1="147.8" y1="438.3" x2="147.8" y2="448.9" stroke="#000" stroke-width="0.9" stroke-opacity="0.68" stroke-linecap="butt"/>
<line x1="149.2" y1="438.3" x2="149.2" y2="448.9" stroke="#000" stroke-width="0.9" stroke-opacity="0.68" stroke-linecap="butt"/>
<line x1="155.5" y1="438.3" x2="155.5" y2="448.9" stroke="#000" stroke-width="0.9" stroke-opacity="0.68" stroke-linecap="butt"/>
<line x1="161.3" y1="438.3" x2="161.3" y2="448.9" stroke="#000" stroke-width="0.9" stroke-opacity="0.68" stroke-linecap="butt"/>
<line x1="162.2" y1="438.3" x2="162.2" y2="448.9" stroke="#000" stroke-width="0.9" stroke-opacity="0.68" stroke-linecap="butt"/>
<line x1="166.5" y1="438.3" x2="166.5" y2="448.9" stroke="#000" stroke-width="0.9" stroke-opacity="0.68" stroke-linecap="butt"/>
<line x1="167.5" y1="438.3" x2="167.5" y2="448.9" stroke="#000" stroke-width="0.9" stroke-opacity="0.68" stroke-linecap="butt"/>
<line x1="169.9" y1="438.3" x2="169.9" y2="448.9" stroke="#000" stroke-width="0.9" stroke-opacity="0.68" stroke-linecap="butt"/>
<line x1="172.3" y1="438.3" x2="172.3" y2="448.9" stroke="#000" stroke-width="0.9" stroke-opacity="0.68" stroke-linecap="butt"/>
<line x1="178.1" y1="438.3" x2="178.1" y2="448.9" stroke="#000" stroke-width="0.9" stroke-opacity="0.68" stroke-linecap="butt"/>
<line x1="179.8" y1="438.3" x2="179.8" y2="448.9" stroke="#000" stroke-width="0.9" stroke-opacity="0.68" stroke-linecap="butt"/>
<line x1="184.5" y1="438.3" x2="184.5" y2="448.9" stroke="#000" stroke-width="0.9" stroke-opacity="0.68" stroke-linecap="butt"/>
<line x1="193.5" y1="438.3" x2="193.5" y2="448.9" stroke="#000" stroke-width="0.9" stroke-opacity="0.68" stroke-linecap="butt"/>
<line x1="195.6" y1="438.3" x2="195.6" y2="448.9" stroke="#000" stroke-width="0.9" stroke-opacity="0.68" stroke-linecap="butt"/>
<line x1="197.2" y1="438.3" x2="197.2" y2="448.9" stroke="#000" stroke-width="0.9" stroke-opacity="0.68" stroke-linecap="butt"/>
<line x1="204.6" y1="438.3" x2="204.6" y2="448.9" stroke="#000" stroke-width="0.9" stroke-opacity="0.68" stroke-linecap="butt"/>
<line x1="207.8" y1="438.3" x2="207.8" y2="448.9" stroke="#000" stroke-width="0.9" stroke-opacity="0.68" stroke-linecap="butt"/>
<line x1="209.9" y1="438.3" x2="209.9" y2="448.9" stroke="#000" stroke-width="0.9" stroke-opacity="0.68" stroke-linecap="butt"/>
<line x1="212.6" y1="438.3" x2="212.6" y2="448.9" stroke="#000" stroke-width="0.9" stroke-opacity="0.68" stroke-linecap="butt"/>
<line x1="214.7" y1="438.3" x2="214.7" y2="448.9" stroke="#000" stroke-width="0.9" stroke-opacity="0.68" stroke-linecap="butt"/>
<line x1="217.3" y1="438.3" x2="217.3" y2="448.9" stroke="#000" stroke-width="0.9" stroke-opacity="0.68" stroke-linecap="butt"/>
<line x1="37.5" y1="443.6" x2="227" y2="443.6" stroke="#ad1d42" stroke-width="1.1" stroke-linecap="butt"/>
<polyline points="46.1,443.4 46.3,420 46.4,401.6 46.6,394.1 47.2,392.9 47.8,387.1 48.3,385.4 49.5,382 50.1,377.9 51,374.5 52.4,371.6 53.5,370.8 55.3,369.3 57,367.5 58.1,367.3 59.3,368.7 61,369.8 62.2,367 62.8,364.7 63.9,363.5 65.6,362.7 67.4,362.3 69.1,362.7 70.8,363.2 72.6,364.7 73.7,363.5 74.9,361.5 76.6,362.3 78.9,363.2 81.2,364.1 83.5,364.7 85.8,365.5 88.1,367 90.4,368.1 92.2,367.5 93.9,368.5 96.2,369.8 98,371.2 100.3,371.5 102.6,373.2 106.7,376.4 112.4,380.4 118.2,384.5 124,388.5 128,391.2 133.8,395.2 139.5,399.6 145.3,403.9 151.1,408.2 158,412.3 162.6,415.8 166.7,418.4 172.4,421.9 178.2,425.3 181.1,426.8 188,431.5 192.6,434.7 198.4,437 202.4,439.9 207,442.5 211.1,443.6 214,444.5 216.5,444.3 218,444" fill="none" stroke="#a21b3d" stroke-width="1.3" stroke-linejoin="round"/>
<rect x="37.5" y="356.8" width="189.5" height="96.1" fill="none" stroke="#c8264e" stroke-width="1.5"/>
<line x1="33.3" y1="339.8" x2="37.5" y2="339.8" stroke="#1c1c1c" stroke-width="1.1" stroke-linecap="butt"/>
<text x="29.9" y="343.2" font-size="9.6" text-anchor="end" fill="#2e2e2e">0.0</text>
<line x1="33.3" y1="443.7" x2="37.5" y2="443.7" stroke="#1c1c1c" stroke-width="1.1" stroke-linecap="butt"/>
<text x="29.9" y="447.1" font-size="9.6" text-anchor="end" fill="#2e2e2e">0.0</text>
<line x1="33.3" y1="311.2" x2="37.5" y2="311.2" stroke="#1c1c1c" stroke-width="1.1" stroke-linecap="butt"/>
<text x="29.9" y="314.6" font-size="9.6" text-anchor="end" fill="#2e2e2e">0.2</text>
<line x1="33.3" y1="417.9" x2="37.5" y2="417.9" stroke="#1c1c1c" stroke-width="1.1" stroke-linecap="butt"/>
<text x="29.9" y="421.3" font-size="9.6" text-anchor="end" fill="#2e2e2e">0.2</text>
<line x1="33.3" y1="282.6" x2="37.5" y2="282.6" stroke="#1c1c1c" stroke-width="1.1" stroke-linecap="butt"/>
<text x="29.9" y="286" font-size="9.6" text-anchor="end" fill="#2e2e2e">0.4</text>
<line x1="33.3" y1="392.1" x2="37.5" y2="392.1" stroke="#1c1c1c" stroke-width="1.1" stroke-linecap="butt"/>
<text x="29.9" y="395.5" font-size="9.6" text-anchor="end" fill="#2e2e2e">0.4</text>
<line x1="33.3" y1="254" x2="37.5" y2="254" stroke="#1c1c1c" stroke-width="1.1" stroke-linecap="butt"/>
<text x="29.9" y="257.4" font-size="9.6" text-anchor="end" fill="#2e2e2e">0.6</text>
<line x1="33.3" y1="366.3" x2="37.5" y2="366.3" stroke="#1c1c1c" stroke-width="1.1" stroke-linecap="butt"/>
<text x="29.9" y="369.7" font-size="9.6" text-anchor="end" fill="#2e2e2e">0.6</text>
<line x1="45.5" y1="349.7" x2="45.5" y2="352.5" stroke="#1c1c1c" stroke-width="1" stroke-linecap="butt"/>
<line x1="45.5" y1="452.9" x2="45.5" y2="456.4" stroke="#1c1c1c" stroke-width="1" stroke-linecap="butt"/>
<text x="45.5" y="468.1" font-size="10.2" text-anchor="middle" fill="#2e2e2e" textLength="4.9" lengthAdjust="spacingAndGlyphs">0</text>
<line x1="103.45" y1="349.7" x2="103.45" y2="352.5" stroke="#1c1c1c" stroke-width="1" stroke-linecap="butt"/>
<line x1="104.87" y1="452.9" x2="104.87" y2="456.4" stroke="#1c1c1c" stroke-width="1" stroke-linecap="butt"/>
<text x="104.87" y="468.1" font-size="10.2" text-anchor="middle" fill="#2e2e2e" textLength="19.6" lengthAdjust="spacingAndGlyphs">5000</text>
<line x1="161.4" y1="349.7" x2="161.4" y2="352.5" stroke="#1c1c1c" stroke-width="1" stroke-linecap="butt"/>
<line x1="164.24" y1="452.9" x2="164.24" y2="456.4" stroke="#1c1c1c" stroke-width="1" stroke-linecap="butt"/>
<text x="164.24" y="468.1" font-size="10.2" text-anchor="middle" fill="#2e2e2e" textLength="24.5" lengthAdjust="spacingAndGlyphs">10000</text>
<line x1="219.35" y1="349.7" x2="219.35" y2="352.5" stroke="#1c1c1c" stroke-width="1" stroke-linecap="butt"/>
<line x1="223.61" y1="452.9" x2="223.61" y2="456.4" stroke="#1c1c1c" stroke-width="1" stroke-linecap="butt"/>
<text x="223.61" y="468.1" font-size="10.2" text-anchor="middle" fill="#2e2e2e" textLength="24.5" lengthAdjust="spacingAndGlyphs">15000</text>
<rect x="227.9" y="253.3" width="21.6" height="199.6" fill="#c9c9c9" stroke="#1c1c1c" stroke-width="1.4"/>
<rect x="229.2" y="254.6" width="19" height="197" fill="none" stroke="#fff" stroke-width="0.6" stroke-opacity="0.55"/>
<text transform="translate(235.4,353.1) rotate(90)" x="0" y="0" font-size="11" text-anchor="middle" fill="#2a2a2a" textLength="49" lengthAdjust="spacingAndGlyphs">CD4 Tcon</text>
<text transform="translate(10.1,349.9) rotate(-90)" x="0" y="0" font-size="10.8" text-anchor="middle" fill="#2e2e2e" textLength="66.2" lengthAdjust="spacingAndGlyphs" stroke="#2e2e2e" stroke-width="0.15">Enrichment score</text>
<text x="132.25" y="483.1" font-size="10.5" text-anchor="middle" fill="#2e2e2e" textLength="19.2" lengthAdjust="spacingAndGlyphs" stroke="#2e2e2e" stroke-width="0.2">Rank</text>
<text x="225.3" y="267.8" font-size="8.5" text-anchor="end" fill="#31598a" textLength="120.7" lengthAdjust="spacingAndGlyphs">NES = 2.003593833 pval = 5.51E-08</text>
<text x="220.2" y="371.5" font-size="8.5" text-anchor="end" fill="#c03a5c" textLength="114.8" lengthAdjust="spacingAndGlyphs">NES = 2.055580896 pval = 0.0001</text>
<text x="70.8" y="306.2" font-size="8.8" text-anchor="start" fill="#31598a" textLength="17.6" lengthAdjust="spacingAndGlyphs">Tcon</text>
<text x="71.3" y="409.9" font-size="8.8" text-anchor="start" fill="#c03a5c" textLength="44.6" lengthAdjust="spacingAndGlyphs">Tcon + Treg</text>
<text x="311" y="248.2" font-size="8.6" text-anchor="start" fill="#2a2a2a" textLength="183.1" lengthAdjust="spacingAndGlyphs">GO_LEUKOCYTE_MEDIATED_CYTOTOXICITY</text>
<line x1="307" y1="258.2" x2="497.4" y2="258.2" stroke="#5a7092" stroke-width="1.2" stroke-dasharray="4.2,4.7" stroke-linecap="butt"/>
<line x1="307" y1="342.5" x2="497.4" y2="342.5" stroke="#5a7092" stroke-width="1.2" stroke-dasharray="4.2,4.7" stroke-linecap="butt"/>
<line x1="316" y1="335.1" x2="316" y2="345.7" stroke="#000" stroke-width="0.9" stroke-opacity="0.68" stroke-linecap="butt"/>
<line x1="316.7" y1="335.1" x2="316.7" y2="345.7" stroke="#000" stroke-width="0.9" stroke-opacity="0.68" stroke-linecap="butt"/>
<line x1="317.5" y1="335.1" x2="317.5" y2="345.7" stroke="#000" stroke-width="0.9" stroke-opacity="0.68" stroke-linecap="butt"/>
<line x1="318.2" y1="335.1" x2="318.2" y2="345.7" stroke="#000" stroke-width="0.9" stroke-opacity="0.68" stroke-linecap="butt"/>
<line x1="319.1" y1="335.1" x2="319.1" y2="345.7" stroke="#000" stroke-width="0.9" stroke-opacity="0.68" stroke-linecap="butt"/>
<line x1="320.6" y1="335.1" x2="320.6" y2="345.7" stroke="#000" stroke-width="0.9" stroke-opacity="0.68" stroke-linecap="butt"/>
<line x1="322.5" y1="335.1" x2="322.5" y2="345.7" stroke="#000" stroke-width="0.9" stroke-opacity="0.68" stroke-linecap="butt"/>
<line x1="324.9" y1="335.1" x2="324.9" y2="345.7" stroke="#000" stroke-width="0.9" stroke-opacity="0.68" stroke-linecap="butt"/>
<line x1="326.3" y1="335.1" x2="326.3" y2="345.7" stroke="#000" stroke-width="0.9" stroke-opacity="0.68" stroke-linecap="butt"/>
<line x1="327.8" y1="335.1" x2="327.8" y2="345.7" stroke="#000" stroke-width="0.9" stroke-opacity="0.68" stroke-linecap="butt"/>
<line x1="329.7" y1="335.1" x2="329.7" y2="345.7" stroke="#000" stroke-width="0.9" stroke-opacity="0.68" stroke-linecap="butt"/>
<line x1="332.1" y1="335.1" x2="332.1" y2="345.7" stroke="#000" stroke-width="0.9" stroke-opacity="0.68" stroke-linecap="butt"/>
<line x1="335.5" y1="335.1" x2="335.5" y2="345.7" stroke="#000" stroke-width="0.9" stroke-opacity="0.68" stroke-linecap="butt"/>
<line x1="336.9" y1="335.1" x2="336.9" y2="345.7" stroke="#000" stroke-width="0.9" stroke-opacity="0.68" stroke-linecap="butt"/>
<line x1="338.8" y1="335.1" x2="338.8" y2="345.7" stroke="#000" stroke-width="0.9" stroke-opacity="0.68" stroke-linecap="butt"/>
<line x1="341.7" y1="335.1" x2="341.7" y2="345.7" stroke="#000" stroke-width="0.9" stroke-opacity="0.68" stroke-linecap="butt"/>
<line x1="343.2" y1="335.1" x2="343.2" y2="345.7" stroke="#000" stroke-width="0.9" stroke-opacity="0.68" stroke-linecap="butt"/>
<line x1="352.3" y1="335.1" x2="352.3" y2="345.7" stroke="#000" stroke-width="0.9" stroke-opacity="0.68" stroke-linecap="butt"/>
<line x1="353.8" y1="335.1" x2="353.8" y2="345.7" stroke="#000" stroke-width="0.9" stroke-opacity="0.68" stroke-linecap="butt"/>
<line x1="355.7" y1="335.1" x2="355.7" y2="345.7" stroke="#000" stroke-width="0.9" stroke-opacity="0.68" stroke-linecap="butt"/>
<line x1="357.6" y1="335.1" x2="357.6" y2="345.7" stroke="#000" stroke-width="0.9" stroke-opacity="0.68" stroke-linecap="butt"/>
<line x1="359.8" y1="335.1" x2="359.8" y2="345.7" stroke="#000" stroke-width="0.9" stroke-opacity="0.68" stroke-linecap="butt"/>
<line x1="362.2" y1="335.1" x2="362.2" y2="345.7" stroke="#000" stroke-width="0.9" stroke-opacity="0.68" stroke-linecap="butt"/>
<line x1="364.1" y1="335.1" x2="364.1" y2="345.7" stroke="#000" stroke-width="0.9" stroke-opacity="0.68" stroke-linecap="butt"/>
<line x1="368.9" y1="335.1" x2="368.9" y2="345.7" stroke="#000" stroke-width="0.9" stroke-opacity="0.68" stroke-linecap="butt"/>
<line x1="375.2" y1="335.1" x2="375.2" y2="345.7" stroke="#000" stroke-width="0.9" stroke-opacity="0.68" stroke-linecap="butt"/>
<line x1="376.2" y1="335.1" x2="376.2" y2="345.7" stroke="#000" stroke-width="0.9" stroke-opacity="0.68" stroke-linecap="butt"/>
<line x1="378.6" y1="335.1" x2="378.6" y2="345.7" stroke="#000" stroke-width="0.9" stroke-opacity="0.68" stroke-linecap="butt"/>
<line x1="380.5" y1="335.1" x2="380.5" y2="345.7" stroke="#000" stroke-width="0.9" stroke-opacity="0.68" stroke-linecap="butt"/>
<line x1="382.4" y1="335.1" x2="382.4" y2="345.7" stroke="#000" stroke-width="0.9" stroke-opacity="0.68" stroke-linecap="butt"/>
<line x1="385.8" y1="335.1" x2="385.8" y2="345.7" stroke="#000" stroke-width="0.9" stroke-opacity="0.68" stroke-linecap="butt"/>
<line x1="387.7" y1="335.1" x2="387.7" y2="345.7" stroke="#000" stroke-width="0.9" stroke-opacity="0.68" stroke-linecap="butt"/>
<line x1="389.6" y1="335.1" x2="389.6" y2="345.7" stroke="#000" stroke-width="0.9" stroke-opacity="0.68" stroke-linecap="butt"/>
<line x1="392" y1="335.1" x2="392" y2="345.7" stroke="#000" stroke-width="0.9" stroke-opacity="0.68" stroke-linecap="butt"/>
<line x1="398.3" y1="335.1" x2="398.3" y2="345.7" stroke="#000" stroke-width="0.9" stroke-opacity="0.68" stroke-linecap="butt"/>
<line x1="407.2" y1="335.1" x2="407.2" y2="345.7" stroke="#000" stroke-width="0.9" stroke-opacity="0.68" stroke-linecap="butt"/>
<line x1="415.4" y1="335.1" x2="415.4" y2="345.7" stroke="#000" stroke-width="0.9" stroke-opacity="0.68" stroke-linecap="butt"/>
<line x1="416.3" y1="335.1" x2="416.3" y2="345.7" stroke="#000" stroke-width="0.9" stroke-opacity="0.68" stroke-linecap="butt"/>
<line x1="417.8" y1="335.1" x2="417.8" y2="345.7" stroke="#000" stroke-width="0.9" stroke-opacity="0.68" stroke-linecap="butt"/>
<line x1="419.2" y1="335.1" x2="419.2" y2="345.7" stroke="#000" stroke-width="0.9" stroke-opacity="0.68" stroke-linecap="butt"/>
<line x1="420.7" y1="335.1" x2="420.7" y2="345.7" stroke="#000" stroke-width="0.9" stroke-opacity="0.68" stroke-linecap="butt"/>
<line x1="422.1" y1="335.1" x2="422.1" y2="345.7" stroke="#000" stroke-width="0.9" stroke-opacity="0.68" stroke-linecap="butt"/>
<line x1="423.1" y1="335.1" x2="423.1" y2="345.7" stroke="#000" stroke-width="0.9" stroke-opacity="0.68" stroke-linecap="butt"/>
<line x1="425" y1="335.1" x2="425" y2="345.7" stroke="#000" stroke-width="0.9" stroke-opacity="0.68" stroke-linecap="butt"/>
<line x1="427.9" y1="335.1" x2="427.9" y2="345.7" stroke="#000" stroke-width="0.9" stroke-opacity="0.68" stroke-linecap="butt"/>
<line x1="429.3" y1="335.1" x2="429.3" y2="345.7" stroke="#000" stroke-width="0.9" stroke-opacity="0.68" stroke-linecap="butt"/>
<line x1="430.8" y1="335.1" x2="430.8" y2="345.7" stroke="#000" stroke-width="0.9" stroke-opacity="0.68" stroke-linecap="butt"/>
<line x1="432.7" y1="335.1" x2="432.7" y2="345.7" stroke="#000" stroke-width="0.9" stroke-opacity="0.68" stroke-linecap="butt"/>
<line x1="438.5" y1="335.1" x2="438.5" y2="345.7" stroke="#000" stroke-width="0.9" stroke-opacity="0.68" stroke-linecap="butt"/>
<line x1="439.9" y1="335.1" x2="439.9" y2="345.7" stroke="#000" stroke-width="0.9" stroke-opacity="0.68" stroke-linecap="butt"/>
<line x1="441.3" y1="335.1" x2="441.3" y2="345.7" stroke="#000" stroke-width="0.9" stroke-opacity="0.68" stroke-linecap="butt"/>
<line x1="442.8" y1="335.1" x2="442.8" y2="345.7" stroke="#000" stroke-width="0.9" stroke-opacity="0.68" stroke-linecap="butt"/>
<line x1="450.8" y1="335.1" x2="450.8" y2="345.7" stroke="#000" stroke-width="0.9" stroke-opacity="0.68" stroke-linecap="butt"/>
<line x1="453.5" y1="335.1" x2="453.5" y2="345.7" stroke="#000" stroke-width="0.9" stroke-opacity="0.68" stroke-linecap="butt"/>
<line x1="455.6" y1="335.1" x2="455.6" y2="345.7" stroke="#000" stroke-width="0.9" stroke-opacity="0.68" stroke-linecap="butt"/>
<line x1="458.8" y1="335.1" x2="458.8" y2="345.7" stroke="#000" stroke-width="0.9" stroke-opacity="0.68" stroke-linecap="butt"/>
<line x1="461.4" y1="335.1" x2="461.4" y2="345.7" stroke="#000" stroke-width="0.9" stroke-opacity="0.68" stroke-linecap="butt"/>
<line x1="463.5" y1="335.1" x2="463.5" y2="345.7" stroke="#000" stroke-width="0.9" stroke-opacity="0.68" stroke-linecap="butt"/>
<line x1="471.5" y1="335.1" x2="471.5" y2="345.7" stroke="#000" stroke-width="0.9" stroke-opacity="0.68" stroke-linecap="butt"/>
<line x1="476.7" y1="335.1" x2="476.7" y2="345.7" stroke="#000" stroke-width="0.9" stroke-opacity="0.68" stroke-linecap="butt"/>
<line x1="478.3" y1="335.1" x2="478.3" y2="345.7" stroke="#000" stroke-width="0.9" stroke-opacity="0.68" stroke-linecap="butt"/>
<line x1="479.9" y1="335.1" x2="479.9" y2="345.7" stroke="#000" stroke-width="0.9" stroke-opacity="0.68" stroke-linecap="butt"/>
<line x1="482" y1="335.1" x2="482" y2="345.7" stroke="#000" stroke-width="0.9" stroke-opacity="0.68" stroke-linecap="butt"/>
<line x1="485.2" y1="335.1" x2="485.2" y2="345.7" stroke="#000" stroke-width="0.9" stroke-opacity="0.68" stroke-linecap="butt"/>
<line x1="487.3" y1="335.1" x2="487.3" y2="345.7" stroke="#000" stroke-width="0.9" stroke-opacity="0.68" stroke-linecap="butt"/>
<line x1="488.4" y1="335.1" x2="488.4" y2="345.7" stroke="#000" stroke-width="0.9" stroke-opacity="0.68" stroke-linecap="butt"/>
<line x1="307" y1="340.4" x2="497.4" y2="340.4" stroke="#27496f" stroke-width="1.1" stroke-linecap="butt"/>
<polyline points="315.8,340.2 316.2,315 316.6,299.6 316.8,288.6 317.8,284 318.3,278.2 319.2,275.3 319.8,271.9 320.7,267.8 321.8,265 322.6,263.5 323.5,265 324.7,264.4 325.8,265 327,263.8 328.1,263.5 329.9,263.2 331,262.7 331.6,259.2 332.8,258 334.5,258.4 336.2,259.8 338,258.6 339.7,258 341.4,259.2 343.1,260.3 345.4,260.3 347.8,262.1 350.1,264.4 351.8,265.5 353.5,265.5 355.3,263.8 357,265 360.4,267.3 363.9,269.6 367.4,271.9 370,273.7 374.6,276.5 375.8,276 380.4,278.8 381.5,279.8 386.1,282.1 390.2,284.6 393.1,286.9 398.8,291.5 404.6,296.1 410.4,300.8 416.1,304.8 420.7,307.7 424.2,308.8 430,312.5 436.3,316.9 442.5,321.3 448.8,325.6 453.8,328.8 458.8,331 463.8,333.1 467.5,335.6 471.3,338.8 475,340.6 477.5,341.3 480,340.3 482.5,340.6 485,340 487.5,340.3" fill="none" stroke="#244674" stroke-width="1.3" stroke-linejoin="round"/>
<rect x="307" y="253.5" width="190.4" height="96.5" fill="none" stroke="#2b5b95" stroke-width="1.3"/>
<line x1="307" y1="361.6" x2="497.4" y2="361.6" stroke="#a33050" stroke-width="1.2" stroke-dasharray="3.4,4.1" stroke-linecap="butt"/>
<line x1="307" y1="444.2" x2="497.4" y2="444.2" stroke="#a33050" stroke-width="1.2" stroke-dasharray="3.4,4.1" stroke-linecap="butt"/>
<line x1="315.8" y1="438.9" x2="315.8" y2="449.5" stroke="#000" stroke-width="0.9" stroke-opacity="0.68" stroke-linecap="butt"/>
<line x1="316.7" y1="438.9" x2="316.7" y2="449.5" stroke="#000" stroke-width="0.9" stroke-opacity="0.68" stroke-linecap="butt"/>
<line x1="317.7" y1="438.9" x2="317.7" y2="449.5" stroke="#000" stroke-width="0.9" stroke-opacity="0.68" stroke-linecap="butt"/>
<line x1="319.1" y1="438.9" x2="319.1" y2="449.5" stroke="#000" stroke-width="0.9" stroke-opacity="0.68" stroke-linecap="butt"/>
<line x1="322.5" y1="438.9" x2="322.5" y2="449.5" stroke="#000" stroke-width="0.9" stroke-opacity="0.68" stroke-linecap="butt"/>
<line x1="323.5" y1="438.9" x2="323.5" y2="449.5" stroke="#000" stroke-width="0.9" stroke-opacity="0.68" stroke-linecap="butt"/>
<line x1="324.4" y1="438.9" x2="324.4" y2="449.5" stroke="#000" stroke-width="0.9" stroke-opacity="0.68" stroke-linecap="butt"/>
<line x1="326.8" y1="438.9" x2="326.8" y2="449.5" stroke="#000" stroke-width="0.9" stroke-opacity="0.68" stroke-linecap="butt"/>
<line x1="327.8" y1="438.9" x2="327.8" y2="449.5" stroke="#000" stroke-width="0.9" stroke-opacity="0.68" stroke-linecap="butt"/>
<line x1="328.8" y1="438.9" x2="328.8" y2="449.5" stroke="#000" stroke-width="0.9" stroke-opacity="0.68" stroke-linecap="butt"/>
<line x1="329.7" y1="438.9" x2="329.7" y2="449.5" stroke="#000" stroke-width="0.9" stroke-opacity="0.68" stroke-linecap="butt"/>
<line x1="330.7" y1="438.9" x2="330.7" y2="449.5" stroke="#000" stroke-width="0.9" stroke-opacity="0.68" stroke-linecap="butt"/>
<line x1="331.6" y1="438.9" x2="331.6" y2="449.5" stroke="#000" stroke-width="0.9" stroke-opacity="0.68" stroke-linecap="butt"/>
<line x1="334.5" y1="438.9" x2="334.5" y2="449.5" stroke="#000" stroke-width="0.9" stroke-opacity="0.68" stroke-linecap="butt"/>
<line x1="335.5" y1="438.9" x2="335.5" y2="449.5" stroke="#000" stroke-width="0.9" stroke-opacity="0.68" stroke-linecap="butt"/>
<line x1="336.9" y1="438.9" x2="336.9" y2="449.5" stroke="#000" stroke-width="0.9" stroke-opacity="0.68" stroke-linecap="butt"/>
<line x1="338.4" y1="438.9" x2="338.4" y2="449.5" stroke="#000" stroke-width="0.9" stroke-opacity="0.68" stroke-linecap="butt"/>
<line x1="339.8" y1="438.9" x2="339.8" y2="449.5" stroke="#000" stroke-width="0.9" stroke-opacity="0.68" stroke-linecap="butt"/>
<line x1="347.5" y1="438.9" x2="347.5" y2="449.5" stroke="#000" stroke-width="0.9" stroke-opacity="0.68" stroke-linecap="butt"/>
<line x1="348.5" y1="438.9" x2="348.5" y2="449.5" stroke="#000" stroke-width="0.9" stroke-opacity="0.68" stroke-linecap="butt"/>
<line x1="353.3" y1="438.9" x2="353.3" y2="449.5" stroke="#000" stroke-width="0.9" stroke-opacity="0.68" stroke-linecap="butt"/>
<line x1="354.2" y1="438.9" x2="354.2" y2="449.5" stroke="#000" stroke-width="0.9" stroke-opacity="0.68" stroke-linecap="butt"/>
<line x1="356.6" y1="438.9" x2="356.6" y2="449.5" stroke="#000" stroke-width="0.9" stroke-opacity="0.68" stroke-linecap="butt"/>
<line x1="362.2" y1="438.9" x2="362.2" y2="449.5" stroke="#000" stroke-width="0.9" stroke-opacity="0.68" stroke-linecap="butt"/>
<line x1="363.2" y1="438.9" x2="363.2" y2="449.5" stroke="#000" stroke-width="0.9" stroke-opacity="0.68" stroke-linecap="butt"/>
<line x1="366.1" y1="438.9" x2="366.1" y2="449.5" stroke="#000" stroke-width="0.9" stroke-opacity="0.68" stroke-linecap="butt"/>
<line x1="371.3" y1="438.9" x2="371.3" y2="449.5" stroke="#000" stroke-width="0.9" stroke-opacity="0.68" stroke-linecap="butt"/>
<line x1="376.6" y1="438.9" x2="376.6" y2="449.5" stroke="#000" stroke-width="0.9" stroke-opacity="0.68" stroke-linecap="butt"/>
<line x1="377.6" y1="438.9" x2="377.6" y2="449.5" stroke="#000" stroke-width="0.9" stroke-opacity="0.68" stroke-linecap="butt"/>
<line x1="380.5" y1="438.9" x2="380.5" y2="449.5" stroke="#000" stroke-width="0.9" stroke-opacity="0.68" stroke-linecap="butt"/>
<line x1="384.8" y1="438.9" x2="384.8" y2="449.5" stroke="#000" stroke-width="0.9" stroke-opacity="0.68" stroke-linecap="butt"/>
<line x1="385.8" y1="438.9" x2="385.8" y2="449.5" stroke="#000" stroke-width="0.9" stroke-opacity="0.68" stroke-linecap="butt"/>
<line x1="386.7" y1="438.9" x2="386.7" y2="449.5" stroke="#000" stroke-width="0.9" stroke-opacity="0.68" stroke-linecap="butt"/>
<line x1="388.2" y1="438.9" x2="388.2" y2="449.5" stroke="#000" stroke-width="0.9" stroke-opacity="0.68" stroke-linecap="butt"/>
<line x1="392" y1="438.9" x2="392" y2="449.5" stroke="#000" stroke-width="0.9" stroke-opacity="0.68" stroke-linecap="butt"/>
<line x1="397.3" y1="438.9" x2="397.3" y2="449.5" stroke="#000" stroke-width="0.9" stroke-opacity="0.68" stroke-linecap="butt"/>
<line x1="400.2" y1="438.9" x2="400.2" y2="449.5" stroke="#000" stroke-width="0.9" stroke-opacity="0.68" stroke-linecap="butt"/>
<line x1="401" y1="438.9" x2="401" y2="449.5" stroke="#000" stroke-width="0.9" stroke-opacity="0.68" stroke-linecap="butt"/>
<line x1="405.8" y1="438.9" x2="405.8" y2="449.5" stroke="#000" stroke-width="0.9" stroke-opacity="0.68" stroke-linecap="butt"/>
<line x1="408.7" y1="438.9" x2="408.7" y2="449.5" stroke="#000" stroke-width="0.9" stroke-opacity="0.68" stroke-linecap="butt"/>
<line x1="412" y1="438.9" x2="412" y2="449.5" stroke="#000" stroke-width="0.9" stroke-opacity="0.68" stroke-linecap="butt"/>
<line x1="418.8" y1="438.9" x2="418.8" y2="449.5" stroke="#000" stroke-width="0.9" stroke-opacity="0.68" stroke-linecap="butt"/>
<line x1="420.2" y1="438.9" x2="420.2" y2="449.5" stroke="#000" stroke-width="0.9" stroke-opacity="0.68" stroke-linecap="butt"/>
<line x1="422.6" y1="438.9" x2="422.6" y2="449.5" stroke="#000" stroke-width="0.9" stroke-opacity="0.68" stroke-linecap="butt"/>
<line x1="429.8" y1="438.9" x2="429.8" y2="449.5" stroke="#000" stroke-width="0.9" stroke-opacity="0.68" stroke-linecap="butt"/>
<line x1="431.3" y1="438.9" x2="431.3" y2="449.5" stroke="#000" stroke-width="0.9" stroke-opacity="0.68" stroke-linecap="butt"/>
<line x1="433.7" y1="438.9" x2="433.7" y2="449.5" stroke="#000" stroke-width="0.9" stroke-opacity="0.68" stroke-linecap="butt"/>
<line x1="435.1" y1="438.9" x2="435.1" y2="449.5" stroke="#000" stroke-width="0.9" stroke-opacity="0.68" stroke-linecap="butt"/>
<line x1="436.5" y1="438.9" x2="436.5" y2="449.5" stroke="#000" stroke-width="0.9" stroke-opacity="0.68" stroke-linecap="butt"/>
<line x1="440.4" y1="438.9" x2="440.4" y2="449.5" stroke="#000" stroke-width="0.9" stroke-opacity="0.68" stroke-linecap="butt"/>
<line x1="442.3" y1="438.9" x2="442.3" y2="449.5" stroke="#000" stroke-width="0.9" stroke-opacity="0.68" stroke-linecap="butt"/>
<line x1="444.2" y1="438.9" x2="444.2" y2="449.5" stroke="#000" stroke-width="0.9" stroke-opacity="0.68" stroke-linecap="butt"/>
<line x1="446.2" y1="438.9" x2="446.2" y2="449.5" stroke="#000" stroke-width="0.9" stroke-opacity="0.68" stroke-linecap="butt"/>
<line x1="456.6" y1="438.9" x2="456.6" y2="449.5" stroke="#000" stroke-width="0.9" stroke-opacity="0.68" stroke-linecap="butt"/>
<line x1="458.2" y1="438.9" x2="458.2" y2="449.5" stroke="#000" stroke-width="0.9" stroke-opacity="0.68" stroke-linecap="butt"/>
<line x1="461.9" y1="438.9" x2="461.9" y2="449.5" stroke="#000" stroke-width="0.9" stroke-opacity="0.68" stroke-linecap="butt"/>
<line x1="469.3" y1="438.9" x2="469.3" y2="449.5" stroke="#000" stroke-width="0.9" stroke-opacity="0.68" stroke-linecap="butt"/>
<line x1="474.6" y1="438.9" x2="474.6" y2="449.5" stroke="#000" stroke-width="0.9" stroke-opacity="0.68" stroke-linecap="butt"/>
<line x1="476.7" y1="438.9" x2="476.7" y2="449.5" stroke="#000" stroke-width="0.9" stroke-opacity="0.68" stroke-linecap="butt"/>
<line x1="478.9" y1="438.9" x2="478.9" y2="449.5" stroke="#000" stroke-width="0.9" stroke-opacity="0.68" stroke-linecap="butt"/>
<line x1="481.5" y1="438.9" x2="481.5" y2="449.5" stroke="#000" stroke-width="0.9" stroke-opacity="0.68" stroke-linecap="butt"/>
<line x1="482.6" y1="438.9" x2="482.6" y2="449.5" stroke="#000" stroke-width="0.9" stroke-opacity="0.68" stroke-linecap="butt"/>
<line x1="484.7" y1="438.9" x2="484.7" y2="449.5" stroke="#000" stroke-width="0.9" stroke-opacity="0.68" stroke-linecap="butt"/>
<line x1="307" y1="444.2" x2="497.4" y2="444.2" stroke="#ad1d42" stroke-width="1.1" stroke-linecap="butt"/>
<polyline points="315.5,443.8 315.9,425 316.1,408.3 316.8,406.8 317,399 317.1,392.9 317.5,388.9 318.3,387.1 319.5,383.7 320.7,382.5 321.8,383.1 323,378.5 323.5,376.2 325.3,374.5 327,373.9 328.1,372.1 328.7,367.5 330.5,366.4 332.2,364.7 333.3,363.5 335.1,362.3 336.8,361.5 338.5,362 340.3,362.3 342,363.2 344.3,365.2 346.6,367 350.1,368.7 352.9,370.4 354.1,369.8 357,371.6 360.4,373.3 362.7,375 363.9,373.3 366.8,375 369.7,376.8 370.6,377.2 371.7,376.6 375.8,379.5 381.5,383 384.4,384.7 387.3,385.8 393.1,389.3 398.8,393.9 404.6,398.5 410.4,402.6 416.1,406.6 421.9,410.6 427.7,414.7 430,415.6 436.3,418.8 442.5,423.1 448.8,427.5 455,431.3 458.8,432.8 460,433.1 465.8,436.5 471.5,440.6 474.4,442.3 477.3,443.5 479,442.3 481.9,444.1 484.2,442.3 486.5,443.5 488.8,444.1 486,445 484,444.5" fill="none" stroke="#a21b3d" stroke-width="1.3" stroke-linejoin="round"/>
<rect x="307" y="357.1" width="190.4" height="96.2" fill="none" stroke="#c8264e" stroke-width="1.5"/>
<line x1="302.8" y1="340.5" x2="307" y2="340.5" stroke="#1c1c1c" stroke-width="1.1" stroke-linecap="butt"/>
<text x="299.4" y="343.9" font-size="9.6" text-anchor="end" fill="#2e2e2e">0.0</text>
<line x1="302.8" y1="444.25" x2="307" y2="444.25" stroke="#1c1c1c" stroke-width="1.1" stroke-linecap="butt"/>
<text x="299.4" y="447.65" font-size="9.6" text-anchor="end" fill="#2e2e2e">0.0</text>
<line x1="302.8" y1="312.9" x2="307" y2="312.9" stroke="#1c1c1c" stroke-width="1.1" stroke-linecap="butt"/>
<text x="299.4" y="316.3" font-size="9.6" text-anchor="end" fill="#2e2e2e">0.2</text>
<line x1="302.8" y1="417.5" x2="307" y2="417.5" stroke="#1c1c1c" stroke-width="1.1" stroke-linecap="butt"/>
<text x="299.4" y="420.9" font-size="9.6" text-anchor="end" fill="#2e2e2e">0.2</text>
<line x1="302.8" y1="285.3" x2="307" y2="285.3" stroke="#1c1c1c" stroke-width="1.1" stroke-linecap="butt"/>
<text x="299.4" y="288.7" font-size="9.6" text-anchor="end" fill="#2e2e2e">0.4</text>
<line x1="302.8" y1="390.75" x2="307" y2="390.75" stroke="#1c1c1c" stroke-width="1.1" stroke-linecap="butt"/>
<text x="299.4" y="394.15" font-size="9.6" text-anchor="end" fill="#2e2e2e">0.4</text>
<line x1="302.8" y1="257.7" x2="307" y2="257.7" stroke="#1c1c1c" stroke-width="1.1" stroke-linecap="butt"/>
<text x="299.4" y="261.1" font-size="9.6" text-anchor="end" fill="#2e2e2e">0.6</text>
<line x1="302.8" y1="364" x2="307" y2="364" stroke="#1c1c1c" stroke-width="1.1" stroke-linecap="butt"/>
<text x="299.4" y="367.4" font-size="9.6" text-anchor="end" fill="#2e2e2e">0.6</text>
<line x1="315.5" y1="350" x2="315.5" y2="352.8" stroke="#1c1c1c" stroke-width="1" stroke-linecap="butt"/>
<line x1="315.5" y1="453.3" x2="315.5" y2="456.8" stroke="#1c1c1c" stroke-width="1" stroke-linecap="butt"/>
<text x="315.5" y="468.1" font-size="10.2" text-anchor="middle" fill="#2e2e2e" textLength="4.9" lengthAdjust="spacingAndGlyphs">0</text>
<line x1="375.5" y1="350" x2="375.5" y2="352.8" stroke="#1c1c1c" stroke-width="1" stroke-linecap="butt"/>
<line x1="375.5" y1="453.3" x2="375.5" y2="456.8" stroke="#1c1c1c" stroke-width="1" stroke-linecap="butt"/>
<text x="375.5" y="468.1" font-size="10.2" text-anchor="middle" fill="#2e2e2e" textLength="19.6" lengthAdjust="spacingAndGlyphs">5000</text>
<line x1="435.5" y1="350" x2="435.5" y2="352.8" stroke="#1c1c1c" stroke-width="1" stroke-linecap="butt"/>
<line x1="435.5" y1="453.3" x2="435.5" y2="456.8" stroke="#1c1c1c" stroke-width="1" stroke-linecap="butt"/>
<text x="435.5" y="468.1" font-size="10.2" text-anchor="middle" fill="#2e2e2e" textLength="24.5" lengthAdjust="spacingAndGlyphs">10000</text>
<line x1="495.5" y1="350" x2="495.5" y2="352.8" stroke="#1c1c1c" stroke-width="1" stroke-linecap="butt"/>
<line x1="495.5" y1="453.3" x2="495.5" y2="456.8" stroke="#1c1c1c" stroke-width="1" stroke-linecap="butt"/>
<text x="495.5" y="468.1" font-size="10.2" text-anchor="middle" fill="#2e2e2e" textLength="24.5" lengthAdjust="spacingAndGlyphs">15000</text>
<rect x="498.3" y="253.5" width="21.2" height="199.8" fill="#c9c9c9" stroke="#1c1c1c" stroke-width="1.4"/>
<rect x="499.6" y="254.8" width="18.6" height="197.2" fill="none" stroke="#fff" stroke-width="0.6" stroke-opacity="0.55"/>
<text transform="translate(505.6,353.4) rotate(90)" x="0" y="0" font-size="11" text-anchor="middle" fill="#2a2a2a" textLength="49" lengthAdjust="spacingAndGlyphs">CD8 Tcon</text>
<text transform="translate(276.2,349.9) rotate(-90)" x="0" y="0" font-size="10.8" text-anchor="middle" fill="#2e2e2e" textLength="66.2" lengthAdjust="spacingAndGlyphs" stroke="#2e2e2e" stroke-width="0.15">Enrichment score</text>
<text x="402.2" y="483.1" font-size="10.5" text-anchor="middle" fill="#2e2e2e" textLength="19.2" lengthAdjust="spacingAndGlyphs" stroke="#2e2e2e" stroke-width="0.2">Rank</text>
<text x="491.5" y="267.2" font-size="8.5" text-anchor="end" fill="#31598a" textLength="121.2" lengthAdjust="spacingAndGlyphs">NES = 2.109250681 padj = 2.72E-07</text>
<text x="493.3" y="372" font-size="8.5" text-anchor="end" fill="#c03a5c" textLength="123.3" lengthAdjust="spacingAndGlyphs">NES = 2.284066117 padj = 1.33E-09</text>
<text x="341.2" y="309" font-size="8.8" text-anchor="start" fill="#31598a" textLength="17.6" lengthAdjust="spacingAndGlyphs">Tcon</text>
<text x="340.6" y="415.2" font-size="8.8" text-anchor="start" fill="#c03a5c" textLength="46.3" lengthAdjust="spacingAndGlyphs">Tcon + Treg</text>
</svg>
</body></html>
